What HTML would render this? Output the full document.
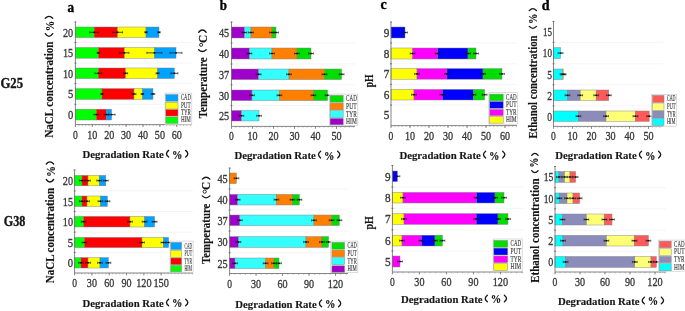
<!DOCTYPE html>
<html><head><meta charset="utf-8"><style>
html,body{margin:0;padding:0;background:#fff;width:685px;height:311px;overflow:hidden}
svg{display:block;font-family:"Liberation Serif",serif;will-change:transform}
</style></head><body>
<svg width="685" height="311" viewBox="0 0 685 311">
<line x1="75.4" y1="42.55" x2="191.8" y2="42.55" stroke="#ececec" stroke-width="0.6"/>
<line x1="75.4" y1="63.1" x2="191.8" y2="63.1" stroke="#ececec" stroke-width="0.6"/>
<line x1="75.4" y1="83.6" x2="191.8" y2="83.6" stroke="#ececec" stroke-width="0.6"/>
<line x1="75.4" y1="104.3" x2="191.8" y2="104.3" stroke="#ececec" stroke-width="0.6"/>
<rect x="75.4" y="27" width="18.8" height="10.6" fill="#00ff00" stroke="#808080" stroke-width="0.45"/>
<rect x="94.2" y="27" width="23.4" height="10.6" fill="#ff0000" stroke="#808080" stroke-width="0.45"/>
<rect x="117.6" y="27" width="28.4" height="10.6" fill="#ffff00" stroke="#808080" stroke-width="0.45"/>
<rect x="146" y="27" width="13" height="10.6" fill="#00a2ff" stroke="#808080" stroke-width="0.45"/>
<line x1="89.7" y1="32.3" x2="98.7" y2="32.3" stroke="#1a1a1a" stroke-width="0.75"/>
<line x1="89.7" y1="31.2" x2="89.7" y2="33.4" stroke="#1a1a1a" stroke-width="0.6"/>
<line x1="98.7" y1="31.2" x2="98.7" y2="33.4" stroke="#1a1a1a" stroke-width="0.6"/>
<rect x="93.4" y="31.5" width="1.6" height="1.6" fill="#111" stroke="none" stroke-width="0.6"/>
<line x1="112.6" y1="32.3" x2="122.6" y2="32.3" stroke="#1a1a1a" stroke-width="0.75"/>
<line x1="112.6" y1="31.2" x2="112.6" y2="33.4" stroke="#1a1a1a" stroke-width="0.6"/>
<line x1="122.6" y1="31.2" x2="122.6" y2="33.4" stroke="#1a1a1a" stroke-width="0.6"/>
<rect x="116.8" y="31.5" width="1.6" height="1.6" fill="#111" stroke="none" stroke-width="0.6"/>
<line x1="144.8" y1="32.3" x2="147.2" y2="32.3" stroke="#1a1a1a" stroke-width="0.75"/>
<line x1="144.8" y1="31.2" x2="144.8" y2="33.4" stroke="#1a1a1a" stroke-width="0.6"/>
<line x1="147.2" y1="31.2" x2="147.2" y2="33.4" stroke="#1a1a1a" stroke-width="0.6"/>
<rect x="145.2" y="31.5" width="1.6" height="1.6" fill="#111" stroke="none" stroke-width="0.6"/>
<line x1="157.8" y1="32.3" x2="160.2" y2="32.3" stroke="#1a1a1a" stroke-width="0.75"/>
<line x1="157.8" y1="31.2" x2="157.8" y2="33.4" stroke="#1a1a1a" stroke-width="0.6"/>
<line x1="160.2" y1="31.2" x2="160.2" y2="33.4" stroke="#1a1a1a" stroke-width="0.6"/>
<rect x="158.2" y="31.5" width="1.6" height="1.6" fill="#111" stroke="none" stroke-width="0.6"/>
<rect x="75.4" y="47.5" width="23" height="10.7" fill="#00ff00" stroke="#808080" stroke-width="0.45"/>
<rect x="98.4" y="47.5" width="26" height="10.7" fill="#ff0000" stroke="#808080" stroke-width="0.45"/>
<rect x="124.4" y="47.5" width="30" height="10.7" fill="#ffff00" stroke="#808080" stroke-width="0.45"/>
<rect x="154.4" y="47.5" width="21.6" height="10.7" fill="#00a2ff" stroke="#808080" stroke-width="0.45"/>
<line x1="97.2" y1="52.85" x2="99.6" y2="52.85" stroke="#1a1a1a" stroke-width="0.75"/>
<line x1="97.2" y1="51.75" x2="97.2" y2="53.95" stroke="#1a1a1a" stroke-width="0.6"/>
<line x1="99.6" y1="51.75" x2="99.6" y2="53.95" stroke="#1a1a1a" stroke-width="0.6"/>
<rect x="97.6" y="52.05" width="1.6" height="1.6" fill="#111" stroke="none" stroke-width="0.6"/>
<line x1="119.9" y1="52.85" x2="128.9" y2="52.85" stroke="#1a1a1a" stroke-width="0.75"/>
<line x1="119.9" y1="51.75" x2="119.9" y2="53.95" stroke="#1a1a1a" stroke-width="0.6"/>
<line x1="128.9" y1="51.75" x2="128.9" y2="53.95" stroke="#1a1a1a" stroke-width="0.6"/>
<rect x="123.6" y="52.05" width="1.6" height="1.6" fill="#111" stroke="none" stroke-width="0.6"/>
<line x1="146.9" y1="52.85" x2="161.9" y2="52.85" stroke="#1a1a1a" stroke-width="0.75"/>
<line x1="146.9" y1="51.75" x2="146.9" y2="53.95" stroke="#1a1a1a" stroke-width="0.6"/>
<line x1="161.9" y1="51.75" x2="161.9" y2="53.95" stroke="#1a1a1a" stroke-width="0.6"/>
<rect x="153.6" y="52.05" width="1.6" height="1.6" fill="#111" stroke="none" stroke-width="0.6"/>
<line x1="170" y1="52.85" x2="182" y2="52.85" stroke="#1a1a1a" stroke-width="0.75"/>
<line x1="170" y1="51.75" x2="170" y2="53.95" stroke="#1a1a1a" stroke-width="0.6"/>
<line x1="182" y1="51.75" x2="182" y2="53.95" stroke="#1a1a1a" stroke-width="0.6"/>
<rect x="175.2" y="52.05" width="1.6" height="1.6" fill="#111" stroke="none" stroke-width="0.6"/>
<rect x="75.4" y="68" width="23" height="10.6" fill="#00ff00" stroke="#808080" stroke-width="0.45"/>
<rect x="98.4" y="68" width="27.2" height="10.6" fill="#ff0000" stroke="#808080" stroke-width="0.45"/>
<rect x="125.6" y="68" width="32" height="10.6" fill="#ffff00" stroke="#808080" stroke-width="0.45"/>
<rect x="157.6" y="68" width="16.8" height="10.6" fill="#00a2ff" stroke="#808080" stroke-width="0.45"/>
<line x1="94.9" y1="73.3" x2="101.9" y2="73.3" stroke="#1a1a1a" stroke-width="0.75"/>
<line x1="94.9" y1="72.2" x2="94.9" y2="74.4" stroke="#1a1a1a" stroke-width="0.6"/>
<line x1="101.9" y1="72.2" x2="101.9" y2="74.4" stroke="#1a1a1a" stroke-width="0.6"/>
<rect x="97.6" y="72.5" width="1.6" height="1.6" fill="#111" stroke="none" stroke-width="0.6"/>
<line x1="123.6" y1="73.3" x2="127.6" y2="73.3" stroke="#1a1a1a" stroke-width="0.75"/>
<line x1="123.6" y1="72.2" x2="123.6" y2="74.4" stroke="#1a1a1a" stroke-width="0.6"/>
<line x1="127.6" y1="72.2" x2="127.6" y2="74.4" stroke="#1a1a1a" stroke-width="0.6"/>
<rect x="124.8" y="72.5" width="1.6" height="1.6" fill="#111" stroke="none" stroke-width="0.6"/>
<line x1="156.1" y1="73.3" x2="159.1" y2="73.3" stroke="#1a1a1a" stroke-width="0.75"/>
<line x1="156.1" y1="72.2" x2="156.1" y2="74.4" stroke="#1a1a1a" stroke-width="0.6"/>
<line x1="159.1" y1="72.2" x2="159.1" y2="74.4" stroke="#1a1a1a" stroke-width="0.6"/>
<rect x="156.8" y="72.5" width="1.6" height="1.6" fill="#111" stroke="none" stroke-width="0.6"/>
<line x1="170.9" y1="73.3" x2="177.9" y2="73.3" stroke="#1a1a1a" stroke-width="0.75"/>
<line x1="170.9" y1="72.2" x2="170.9" y2="74.4" stroke="#1a1a1a" stroke-width="0.6"/>
<line x1="177.9" y1="72.2" x2="177.9" y2="74.4" stroke="#1a1a1a" stroke-width="0.6"/>
<rect x="173.6" y="72.5" width="1.6" height="1.6" fill="#111" stroke="none" stroke-width="0.6"/>
<rect x="75.4" y="88.6" width="26.6" height="10.8" fill="#00ff00" stroke="#808080" stroke-width="0.45"/>
<rect x="102" y="88.6" width="32" height="10.8" fill="#ff0000" stroke="#808080" stroke-width="0.45"/>
<rect x="134" y="88.6" width="8.4" height="10.8" fill="#ffff00" stroke="#808080" stroke-width="0.45"/>
<rect x="142.4" y="88.6" width="10.6" height="10.8" fill="#00a2ff" stroke="#808080" stroke-width="0.45"/>
<line x1="100.8" y1="94" x2="103.2" y2="94" stroke="#1a1a1a" stroke-width="0.75"/>
<line x1="100.8" y1="92.9" x2="100.8" y2="95.1" stroke="#1a1a1a" stroke-width="0.6"/>
<line x1="103.2" y1="92.9" x2="103.2" y2="95.1" stroke="#1a1a1a" stroke-width="0.6"/>
<rect x="101.2" y="93.2" width="1.6" height="1.6" fill="#111" stroke="none" stroke-width="0.6"/>
<line x1="132" y1="94" x2="136" y2="94" stroke="#1a1a1a" stroke-width="0.75"/>
<line x1="132" y1="92.9" x2="132" y2="95.1" stroke="#1a1a1a" stroke-width="0.6"/>
<line x1="136" y1="92.9" x2="136" y2="95.1" stroke="#1a1a1a" stroke-width="0.6"/>
<rect x="133.2" y="93.2" width="1.6" height="1.6" fill="#111" stroke="none" stroke-width="0.6"/>
<line x1="141.2" y1="94" x2="143.6" y2="94" stroke="#1a1a1a" stroke-width="0.75"/>
<line x1="141.2" y1="92.9" x2="141.2" y2="95.1" stroke="#1a1a1a" stroke-width="0.6"/>
<line x1="143.6" y1="92.9" x2="143.6" y2="95.1" stroke="#1a1a1a" stroke-width="0.6"/>
<rect x="141.6" y="93.2" width="1.6" height="1.6" fill="#111" stroke="none" stroke-width="0.6"/>
<line x1="151.2" y1="94" x2="154.8" y2="94" stroke="#1a1a1a" stroke-width="0.75"/>
<line x1="151.2" y1="92.9" x2="151.2" y2="95.1" stroke="#1a1a1a" stroke-width="0.6"/>
<line x1="154.8" y1="92.9" x2="154.8" y2="95.1" stroke="#1a1a1a" stroke-width="0.6"/>
<rect x="152.2" y="93.2" width="1.6" height="1.6" fill="#111" stroke="none" stroke-width="0.6"/>
<rect x="75.4" y="109.2" width="21" height="10.8" fill="#00ff00" stroke="#808080" stroke-width="0.45"/>
<rect x="96.4" y="109.2" width="10" height="10.8" fill="#ff0000" stroke="#808080" stroke-width="0.45"/>
<rect x="106.4" y="109.2" width="5.2" height="10.8" fill="#00a2ff" stroke="#808080" stroke-width="0.45"/>
<line x1="93.9" y1="114.6" x2="98.9" y2="114.6" stroke="#1a1a1a" stroke-width="0.75"/>
<line x1="93.9" y1="113.5" x2="93.9" y2="115.7" stroke="#1a1a1a" stroke-width="0.6"/>
<line x1="98.9" y1="113.5" x2="98.9" y2="115.7" stroke="#1a1a1a" stroke-width="0.6"/>
<rect x="95.6" y="113.8" width="1.6" height="1.6" fill="#111" stroke="none" stroke-width="0.6"/>
<line x1="103.9" y1="114.6" x2="108.9" y2="114.6" stroke="#1a1a1a" stroke-width="0.75"/>
<line x1="103.9" y1="113.5" x2="103.9" y2="115.7" stroke="#1a1a1a" stroke-width="0.6"/>
<line x1="108.9" y1="113.5" x2="108.9" y2="115.7" stroke="#1a1a1a" stroke-width="0.6"/>
<rect x="105.6" y="113.8" width="1.6" height="1.6" fill="#111" stroke="none" stroke-width="0.6"/>
<line x1="108.1" y1="114.6" x2="115.1" y2="114.6" stroke="#1a1a1a" stroke-width="0.75"/>
<line x1="108.1" y1="113.5" x2="108.1" y2="115.7" stroke="#1a1a1a" stroke-width="0.6"/>
<line x1="115.1" y1="113.5" x2="115.1" y2="115.7" stroke="#1a1a1a" stroke-width="0.6"/>
<rect x="110.8" y="113.8" width="1.6" height="1.6" fill="#111" stroke="none" stroke-width="0.6"/>
<line x1="75.4" y1="21.5" x2="75.4" y2="124.6" stroke="#666" stroke-width="0.8"/>
<line x1="75.4" y1="124.6" x2="191.8" y2="124.6" stroke="#666" stroke-width="0.8"/>
<line x1="74.4" y1="42.55" x2="76.4" y2="42.55" stroke="#555" stroke-width="0.7"/>
<line x1="74.4" y1="63.1" x2="76.4" y2="63.1" stroke="#555" stroke-width="0.7"/>
<line x1="74.4" y1="83.6" x2="76.4" y2="83.6" stroke="#555" stroke-width="0.7"/>
<line x1="74.4" y1="104.3" x2="76.4" y2="104.3" stroke="#555" stroke-width="0.7"/>
<line x1="74.4" y1="22" x2="76.4" y2="22" stroke="#555" stroke-width="0.7"/>
<text x="73.2" y="36.6" font-size="12.6" text-anchor="end" textLength="10.2" lengthAdjust="spacingAndGlyphs" fill="#3a3a3a" stroke="#3a3a3a" stroke-width="0.35">20</text>
<text x="73.2" y="57.15" font-size="12.6" text-anchor="end" textLength="10.2" lengthAdjust="spacingAndGlyphs" fill="#3a3a3a" stroke="#3a3a3a" stroke-width="0.35">15</text>
<text x="73.2" y="77.6" font-size="12.6" text-anchor="end" textLength="10.2" lengthAdjust="spacingAndGlyphs" fill="#3a3a3a" stroke="#3a3a3a" stroke-width="0.35">10</text>
<text x="73.2" y="98.3" font-size="12.6" text-anchor="end" textLength="5.3" lengthAdjust="spacingAndGlyphs" fill="#3a3a3a" stroke="#3a3a3a" stroke-width="0.35">5</text>
<text x="73.2" y="118.9" font-size="12.6" text-anchor="end" textLength="5.3" lengthAdjust="spacingAndGlyphs" fill="#3a3a3a" stroke="#3a3a3a" stroke-width="0.35">0</text>
<text x="75.4" y="138.9" font-size="12.4" text-anchor="middle" textLength="4.8" lengthAdjust="spacingAndGlyphs" fill="#3a3a3a" stroke="#3a3a3a" stroke-width="0.35">0</text>
<line x1="75.4" y1="124.6" x2="75.4" y2="127" stroke="#555" stroke-width="0.7"/>
<text x="92.3" y="138.9" font-size="12.4" text-anchor="middle" textLength="10.1" lengthAdjust="spacingAndGlyphs" fill="#3a3a3a" stroke="#3a3a3a" stroke-width="0.35">10</text>
<line x1="92.3" y1="124.6" x2="92.3" y2="127" stroke="#555" stroke-width="0.7"/>
<text x="109.2" y="138.9" font-size="12.4" text-anchor="middle" textLength="10.1" lengthAdjust="spacingAndGlyphs" fill="#3a3a3a" stroke="#3a3a3a" stroke-width="0.35">20</text>
<line x1="109.2" y1="124.6" x2="109.2" y2="127" stroke="#555" stroke-width="0.7"/>
<text x="126.1" y="138.9" font-size="12.4" text-anchor="middle" textLength="10.1" lengthAdjust="spacingAndGlyphs" fill="#3a3a3a" stroke="#3a3a3a" stroke-width="0.35">30</text>
<line x1="126.1" y1="124.6" x2="126.1" y2="127" stroke="#555" stroke-width="0.7"/>
<text x="143" y="138.9" font-size="12.4" text-anchor="middle" textLength="10.1" lengthAdjust="spacingAndGlyphs" fill="#3a3a3a" stroke="#3a3a3a" stroke-width="0.35">40</text>
<line x1="143" y1="124.6" x2="143" y2="127" stroke="#555" stroke-width="0.7"/>
<text x="159.9" y="138.9" font-size="12.4" text-anchor="middle" textLength="10.1" lengthAdjust="spacingAndGlyphs" fill="#3a3a3a" stroke="#3a3a3a" stroke-width="0.35">50</text>
<line x1="159.9" y1="124.6" x2="159.9" y2="127" stroke="#555" stroke-width="0.7"/>
<text x="176.8" y="138.9" font-size="12.4" text-anchor="middle" textLength="10.1" lengthAdjust="spacingAndGlyphs" fill="#3a3a3a" stroke="#3a3a3a" stroke-width="0.35">60</text>
<line x1="176.8" y1="124.6" x2="176.8" y2="127" stroke="#555" stroke-width="0.7"/>
<line x1="75.4" y1="124.6" x2="75.4" y2="126" stroke="#888" stroke-width="0.5"/>
<line x1="78.78" y1="124.6" x2="78.78" y2="126" stroke="#888" stroke-width="0.5"/>
<line x1="82.16" y1="124.6" x2="82.16" y2="126" stroke="#888" stroke-width="0.5"/>
<line x1="85.54" y1="124.6" x2="85.54" y2="126" stroke="#888" stroke-width="0.5"/>
<line x1="88.92" y1="124.6" x2="88.92" y2="126" stroke="#888" stroke-width="0.5"/>
<line x1="92.3" y1="124.6" x2="92.3" y2="126" stroke="#888" stroke-width="0.5"/>
<line x1="95.68" y1="124.6" x2="95.68" y2="126" stroke="#888" stroke-width="0.5"/>
<line x1="99.06" y1="124.6" x2="99.06" y2="126" stroke="#888" stroke-width="0.5"/>
<line x1="102.44" y1="124.6" x2="102.44" y2="126" stroke="#888" stroke-width="0.5"/>
<line x1="105.82" y1="124.6" x2="105.82" y2="126" stroke="#888" stroke-width="0.5"/>
<line x1="109.2" y1="124.6" x2="109.2" y2="126" stroke="#888" stroke-width="0.5"/>
<line x1="112.58" y1="124.6" x2="112.58" y2="126" stroke="#888" stroke-width="0.5"/>
<line x1="115.96" y1="124.6" x2="115.96" y2="126" stroke="#888" stroke-width="0.5"/>
<line x1="119.34" y1="124.6" x2="119.34" y2="126" stroke="#888" stroke-width="0.5"/>
<line x1="122.72" y1="124.6" x2="122.72" y2="126" stroke="#888" stroke-width="0.5"/>
<line x1="126.1" y1="124.6" x2="126.1" y2="126" stroke="#888" stroke-width="0.5"/>
<line x1="129.48" y1="124.6" x2="129.48" y2="126" stroke="#888" stroke-width="0.5"/>
<line x1="132.86" y1="124.6" x2="132.86" y2="126" stroke="#888" stroke-width="0.5"/>
<line x1="136.24" y1="124.6" x2="136.24" y2="126" stroke="#888" stroke-width="0.5"/>
<line x1="139.62" y1="124.6" x2="139.62" y2="126" stroke="#888" stroke-width="0.5"/>
<line x1="143" y1="124.6" x2="143" y2="126" stroke="#888" stroke-width="0.5"/>
<line x1="146.38" y1="124.6" x2="146.38" y2="126" stroke="#888" stroke-width="0.5"/>
<line x1="149.76" y1="124.6" x2="149.76" y2="126" stroke="#888" stroke-width="0.5"/>
<line x1="153.14" y1="124.6" x2="153.14" y2="126" stroke="#888" stroke-width="0.5"/>
<line x1="156.52" y1="124.6" x2="156.52" y2="126" stroke="#888" stroke-width="0.5"/>
<line x1="159.9" y1="124.6" x2="159.9" y2="126" stroke="#888" stroke-width="0.5"/>
<line x1="163.28" y1="124.6" x2="163.28" y2="126" stroke="#888" stroke-width="0.5"/>
<line x1="166.66" y1="124.6" x2="166.66" y2="126" stroke="#888" stroke-width="0.5"/>
<line x1="170.04" y1="124.6" x2="170.04" y2="126" stroke="#888" stroke-width="0.5"/>
<line x1="173.42" y1="124.6" x2="173.42" y2="126" stroke="#888" stroke-width="0.5"/>
<line x1="176.8" y1="124.6" x2="176.8" y2="126" stroke="#888" stroke-width="0.5"/>
<line x1="180.18" y1="124.6" x2="180.18" y2="126" stroke="#888" stroke-width="0.5"/>
<line x1="183.56" y1="124.6" x2="183.56" y2="126" stroke="#888" stroke-width="0.5"/>
<line x1="186.94" y1="124.6" x2="186.94" y2="126" stroke="#888" stroke-width="0.5"/>
<line x1="190.32" y1="124.6" x2="190.32" y2="126" stroke="#888" stroke-width="0.5"/>
<rect x="165.1" y="93.1" width="26.7" height="31.4" fill="#fff" stroke="#c4c4c4" stroke-width="0.6"/>
<rect x="165.8" y="94.5" width="12.2" height="6.7" fill="#00a2ff" stroke="#8a8a8a" stroke-width="0.5"/>
<text x="180.9" y="100.1" font-size="7.5" text-anchor="start" textLength="9.9" lengthAdjust="spacingAndGlyphs" fill="#3c3c3c" stroke="#3c3c3c" stroke-width="0.15">CAD</text>
<rect x="165.8" y="102.2" width="12.2" height="6.8" fill="#ffff00" stroke="#8a8a8a" stroke-width="0.5"/>
<text x="180.9" y="107.9" font-size="7.5" text-anchor="start" textLength="9.9" lengthAdjust="spacingAndGlyphs" fill="#3c3c3c" stroke="#3c3c3c" stroke-width="0.15">PUT</text>
<rect x="165.8" y="109.6" width="12.2" height="6.5" fill="#ff0000" stroke="#8a8a8a" stroke-width="0.5"/>
<text x="180.9" y="115" font-size="7.5" text-anchor="start" textLength="9.9" lengthAdjust="spacingAndGlyphs" fill="#3c3c3c" stroke="#3c3c3c" stroke-width="0.15">TYR</text>
<rect x="165.8" y="117" width="12.2" height="6.4" fill="#00ff00" stroke="#8a8a8a" stroke-width="0.5"/>
<text x="180.9" y="122.3" font-size="7.5" text-anchor="start" textLength="9.9" lengthAdjust="spacingAndGlyphs" fill="#3c3c3c" stroke="#3c3c3c" stroke-width="0.15">HIM</text>
<text transform="translate(53.2,137.7) rotate(-90)" font-size="12" font-weight="bold" textLength="96.2" lengthAdjust="spacingAndGlyphs" fill="#161616" stroke="#161616" stroke-width="0.15">NaCL concentration</text>
<path d="M45.27,33.67 Q49,38.98 52.73,33.67" fill="none" stroke="#161616" stroke-width="1.35" stroke-linecap="round"/>
<path d="M45.27,18.32 Q49,14.43 52.73,18.32" fill="none" stroke="#161616" stroke-width="1.35" stroke-linecap="round"/>
<text transform="translate(53.6,31.2) rotate(-90)" font-size="12.5" font-weight="bold" textLength="10.4" lengthAdjust="spacingAndGlyphs" fill="#161616" stroke="#161616" stroke-width="0.15">%</text>
<text x="82.4" y="158.1" font-size="11" text-anchor="start" font-weight="bold" textLength="81.4" lengthAdjust="spacingAndGlyphs" fill="#161616" stroke="#161616" stroke-width="0.15">Degradation Rate</text>
<path d="M168.62,150.38 Q164.33,153.7 168.62,157.02" fill="none" stroke="#161616" stroke-width="1.35" stroke-linecap="round"/>
<text x="172" y="158.6" font-size="13.5" text-anchor="start" font-weight="bold" textLength="10.4" lengthAdjust="spacingAndGlyphs" fill="#161616" stroke="#161616" stroke-width="0.2">%</text>
<path d="M185.68,150.38 Q189.97,153.7 185.68,157.02" fill="none" stroke="#161616" stroke-width="1.35" stroke-linecap="round"/>
<text x="67.6" y="12" font-size="15.2" text-anchor="start" font-weight="bold" textLength="6.6" lengthAdjust="spacingAndGlyphs" fill="#000" stroke="#000" stroke-width="0.4">a</text>
<line x1="231.5" y1="43" x2="355" y2="43" stroke="#ececec" stroke-width="0.6"/>
<line x1="231.5" y1="64" x2="355" y2="64" stroke="#ececec" stroke-width="0.6"/>
<line x1="231.5" y1="84.8" x2="355" y2="84.8" stroke="#ececec" stroke-width="0.6"/>
<line x1="231.5" y1="105.55" x2="355" y2="105.55" stroke="#ececec" stroke-width="0.6"/>
<rect x="231.5" y="27" width="12.9" height="11" fill="#a000cc" stroke="#808080" stroke-width="0.45"/>
<rect x="244.4" y="27" width="6.6" height="11" fill="#33ffff" stroke="#808080" stroke-width="0.45"/>
<rect x="251" y="27" width="21" height="11" fill="#ff8000" stroke="#808080" stroke-width="0.45"/>
<rect x="272" y="27" width="4" height="11" fill="#00dd00" stroke="#808080" stroke-width="0.45"/>
<line x1="242" y1="32.5" x2="246.8" y2="32.5" stroke="#1a1a1a" stroke-width="0.75"/>
<line x1="242" y1="31.4" x2="242" y2="33.6" stroke="#1a1a1a" stroke-width="0.6"/>
<line x1="246.8" y1="31.4" x2="246.8" y2="33.6" stroke="#1a1a1a" stroke-width="0.6"/>
<rect x="243.6" y="31.7" width="1.6" height="1.6" fill="#111" stroke="none" stroke-width="0.6"/>
<line x1="248.6" y1="32.5" x2="253.4" y2="32.5" stroke="#1a1a1a" stroke-width="0.75"/>
<line x1="248.6" y1="31.4" x2="248.6" y2="33.6" stroke="#1a1a1a" stroke-width="0.6"/>
<line x1="253.4" y1="31.4" x2="253.4" y2="33.6" stroke="#1a1a1a" stroke-width="0.6"/>
<rect x="250.2" y="31.7" width="1.6" height="1.6" fill="#111" stroke="none" stroke-width="0.6"/>
<line x1="269.6" y1="32.5" x2="274.4" y2="32.5" stroke="#1a1a1a" stroke-width="0.75"/>
<line x1="269.6" y1="31.4" x2="269.6" y2="33.6" stroke="#1a1a1a" stroke-width="0.6"/>
<line x1="274.4" y1="31.4" x2="274.4" y2="33.6" stroke="#1a1a1a" stroke-width="0.6"/>
<rect x="271.2" y="31.7" width="1.6" height="1.6" fill="#111" stroke="none" stroke-width="0.6"/>
<line x1="273.6" y1="32.5" x2="278.4" y2="32.5" stroke="#1a1a1a" stroke-width="0.75"/>
<line x1="273.6" y1="31.4" x2="273.6" y2="33.6" stroke="#1a1a1a" stroke-width="0.6"/>
<line x1="278.4" y1="31.4" x2="278.4" y2="33.6" stroke="#1a1a1a" stroke-width="0.6"/>
<rect x="275.2" y="31.7" width="1.6" height="1.6" fill="#111" stroke="none" stroke-width="0.6"/>
<rect x="231.5" y="48" width="17.9" height="11" fill="#a000cc" stroke="#808080" stroke-width="0.45"/>
<rect x="249.4" y="48" width="22.6" height="11" fill="#33ffff" stroke="#808080" stroke-width="0.45"/>
<rect x="272" y="48" width="25" height="11" fill="#ff8000" stroke="#808080" stroke-width="0.45"/>
<rect x="297" y="48" width="14" height="11" fill="#00dd00" stroke="#808080" stroke-width="0.45"/>
<line x1="247" y1="53.5" x2="251.8" y2="53.5" stroke="#1a1a1a" stroke-width="0.75"/>
<line x1="247" y1="52.4" x2="247" y2="54.6" stroke="#1a1a1a" stroke-width="0.6"/>
<line x1="251.8" y1="52.4" x2="251.8" y2="54.6" stroke="#1a1a1a" stroke-width="0.6"/>
<rect x="248.6" y="52.7" width="1.6" height="1.6" fill="#111" stroke="none" stroke-width="0.6"/>
<line x1="269.6" y1="53.5" x2="274.4" y2="53.5" stroke="#1a1a1a" stroke-width="0.75"/>
<line x1="269.6" y1="52.4" x2="269.6" y2="54.6" stroke="#1a1a1a" stroke-width="0.6"/>
<line x1="274.4" y1="52.4" x2="274.4" y2="54.6" stroke="#1a1a1a" stroke-width="0.6"/>
<rect x="271.2" y="52.7" width="1.6" height="1.6" fill="#111" stroke="none" stroke-width="0.6"/>
<line x1="294.6" y1="53.5" x2="299.4" y2="53.5" stroke="#1a1a1a" stroke-width="0.75"/>
<line x1="294.6" y1="52.4" x2="294.6" y2="54.6" stroke="#1a1a1a" stroke-width="0.6"/>
<line x1="299.4" y1="52.4" x2="299.4" y2="54.6" stroke="#1a1a1a" stroke-width="0.6"/>
<rect x="296.2" y="52.7" width="1.6" height="1.6" fill="#111" stroke="none" stroke-width="0.6"/>
<line x1="308.6" y1="53.5" x2="313.4" y2="53.5" stroke="#1a1a1a" stroke-width="0.75"/>
<line x1="308.6" y1="52.4" x2="308.6" y2="54.6" stroke="#1a1a1a" stroke-width="0.6"/>
<line x1="313.4" y1="52.4" x2="313.4" y2="54.6" stroke="#1a1a1a" stroke-width="0.6"/>
<rect x="310.2" y="52.7" width="1.6" height="1.6" fill="#111" stroke="none" stroke-width="0.6"/>
<rect x="231.5" y="69" width="27.1" height="10.6" fill="#a000cc" stroke="#808080" stroke-width="0.45"/>
<rect x="258.6" y="69" width="30.4" height="10.6" fill="#33ffff" stroke="#808080" stroke-width="0.45"/>
<rect x="289" y="69" width="35.4" height="10.6" fill="#ff8000" stroke="#808080" stroke-width="0.45"/>
<rect x="324.4" y="69" width="17.2" height="10.6" fill="#00dd00" stroke="#808080" stroke-width="0.45"/>
<line x1="256.2" y1="74.3" x2="261" y2="74.3" stroke="#1a1a1a" stroke-width="0.75"/>
<line x1="256.2" y1="73.2" x2="256.2" y2="75.4" stroke="#1a1a1a" stroke-width="0.6"/>
<line x1="261" y1="73.2" x2="261" y2="75.4" stroke="#1a1a1a" stroke-width="0.6"/>
<rect x="257.8" y="73.5" width="1.6" height="1.6" fill="#111" stroke="none" stroke-width="0.6"/>
<line x1="286.6" y1="74.3" x2="291.4" y2="74.3" stroke="#1a1a1a" stroke-width="0.75"/>
<line x1="286.6" y1="73.2" x2="286.6" y2="75.4" stroke="#1a1a1a" stroke-width="0.6"/>
<line x1="291.4" y1="73.2" x2="291.4" y2="75.4" stroke="#1a1a1a" stroke-width="0.6"/>
<rect x="288.2" y="73.5" width="1.6" height="1.6" fill="#111" stroke="none" stroke-width="0.6"/>
<line x1="322" y1="74.3" x2="326.8" y2="74.3" stroke="#1a1a1a" stroke-width="0.75"/>
<line x1="322" y1="73.2" x2="322" y2="75.4" stroke="#1a1a1a" stroke-width="0.6"/>
<line x1="326.8" y1="73.2" x2="326.8" y2="75.4" stroke="#1a1a1a" stroke-width="0.6"/>
<rect x="323.6" y="73.5" width="1.6" height="1.6" fill="#111" stroke="none" stroke-width="0.6"/>
<line x1="339.2" y1="74.3" x2="344" y2="74.3" stroke="#1a1a1a" stroke-width="0.75"/>
<line x1="339.2" y1="73.2" x2="339.2" y2="75.4" stroke="#1a1a1a" stroke-width="0.6"/>
<line x1="344" y1="73.2" x2="344" y2="75.4" stroke="#1a1a1a" stroke-width="0.6"/>
<rect x="340.8" y="73.5" width="1.6" height="1.6" fill="#111" stroke="none" stroke-width="0.6"/>
<rect x="231.5" y="90" width="20.5" height="10.6" fill="#a000cc" stroke="#808080" stroke-width="0.45"/>
<rect x="252" y="90" width="27.4" height="10.6" fill="#33ffff" stroke="#808080" stroke-width="0.45"/>
<rect x="279.4" y="90" width="34" height="10.6" fill="#ff8000" stroke="#808080" stroke-width="0.45"/>
<rect x="313.4" y="90" width="14.2" height="10.6" fill="#00dd00" stroke="#808080" stroke-width="0.45"/>
<line x1="249.6" y1="95.3" x2="254.4" y2="95.3" stroke="#1a1a1a" stroke-width="0.75"/>
<line x1="249.6" y1="94.2" x2="249.6" y2="96.4" stroke="#1a1a1a" stroke-width="0.6"/>
<line x1="254.4" y1="94.2" x2="254.4" y2="96.4" stroke="#1a1a1a" stroke-width="0.6"/>
<rect x="251.2" y="94.5" width="1.6" height="1.6" fill="#111" stroke="none" stroke-width="0.6"/>
<line x1="277" y1="95.3" x2="281.8" y2="95.3" stroke="#1a1a1a" stroke-width="0.75"/>
<line x1="277" y1="94.2" x2="277" y2="96.4" stroke="#1a1a1a" stroke-width="0.6"/>
<line x1="281.8" y1="94.2" x2="281.8" y2="96.4" stroke="#1a1a1a" stroke-width="0.6"/>
<rect x="278.6" y="94.5" width="1.6" height="1.6" fill="#111" stroke="none" stroke-width="0.6"/>
<line x1="311" y1="95.3" x2="315.8" y2="95.3" stroke="#1a1a1a" stroke-width="0.75"/>
<line x1="311" y1="94.2" x2="311" y2="96.4" stroke="#1a1a1a" stroke-width="0.6"/>
<line x1="315.8" y1="94.2" x2="315.8" y2="96.4" stroke="#1a1a1a" stroke-width="0.6"/>
<rect x="312.6" y="94.5" width="1.6" height="1.6" fill="#111" stroke="none" stroke-width="0.6"/>
<line x1="325.2" y1="95.3" x2="330" y2="95.3" stroke="#1a1a1a" stroke-width="0.75"/>
<line x1="325.2" y1="94.2" x2="325.2" y2="96.4" stroke="#1a1a1a" stroke-width="0.6"/>
<line x1="330" y1="94.2" x2="330" y2="96.4" stroke="#1a1a1a" stroke-width="0.6"/>
<rect x="326.8" y="94.5" width="1.6" height="1.6" fill="#111" stroke="none" stroke-width="0.6"/>
<rect x="231.5" y="110.5" width="9.9" height="10.5" fill="#a000cc" stroke="#808080" stroke-width="0.45"/>
<rect x="241.4" y="110.5" width="17.6" height="10.5" fill="#33ffff" stroke="#808080" stroke-width="0.45"/>
<line x1="239" y1="115.75" x2="243.8" y2="115.75" stroke="#1a1a1a" stroke-width="0.75"/>
<line x1="239" y1="114.65" x2="239" y2="116.85" stroke="#1a1a1a" stroke-width="0.6"/>
<line x1="243.8" y1="114.65" x2="243.8" y2="116.85" stroke="#1a1a1a" stroke-width="0.6"/>
<rect x="240.6" y="114.95" width="1.6" height="1.6" fill="#111" stroke="none" stroke-width="0.6"/>
<line x1="256.6" y1="115.75" x2="261.4" y2="115.75" stroke="#1a1a1a" stroke-width="0.75"/>
<line x1="256.6" y1="114.65" x2="256.6" y2="116.85" stroke="#1a1a1a" stroke-width="0.6"/>
<line x1="261.4" y1="114.65" x2="261.4" y2="116.85" stroke="#1a1a1a" stroke-width="0.6"/>
<rect x="258.2" y="114.95" width="1.6" height="1.6" fill="#111" stroke="none" stroke-width="0.6"/>
<line x1="231.5" y1="21.6" x2="231.5" y2="126.4" stroke="#666" stroke-width="0.8"/>
<line x1="231.5" y1="126.4" x2="355" y2="126.4" stroke="#666" stroke-width="0.8"/>
<line x1="230.5" y1="43" x2="232.5" y2="43" stroke="#555" stroke-width="0.7"/>
<line x1="230.5" y1="64" x2="232.5" y2="64" stroke="#555" stroke-width="0.7"/>
<line x1="230.5" y1="84.8" x2="232.5" y2="84.8" stroke="#555" stroke-width="0.7"/>
<line x1="230.5" y1="105.55" x2="232.5" y2="105.55" stroke="#555" stroke-width="0.7"/>
<line x1="230.5" y1="22.1" x2="232.5" y2="22.1" stroke="#555" stroke-width="0.7"/>
<text x="229.2" y="36.8" font-size="12.6" text-anchor="end" textLength="10.2" lengthAdjust="spacingAndGlyphs" fill="#3a3a3a" stroke="#3a3a3a" stroke-width="0.35">45</text>
<text x="229.2" y="57.8" font-size="12.6" text-anchor="end" textLength="10.2" lengthAdjust="spacingAndGlyphs" fill="#3a3a3a" stroke="#3a3a3a" stroke-width="0.35">40</text>
<text x="229.2" y="78.6" font-size="12.6" text-anchor="end" textLength="10.2" lengthAdjust="spacingAndGlyphs" fill="#3a3a3a" stroke="#3a3a3a" stroke-width="0.35">37</text>
<text x="229.2" y="99.6" font-size="12.6" text-anchor="end" textLength="10.2" lengthAdjust="spacingAndGlyphs" fill="#3a3a3a" stroke="#3a3a3a" stroke-width="0.35">30</text>
<text x="229.2" y="120.05" font-size="12.6" text-anchor="end" textLength="10.2" lengthAdjust="spacingAndGlyphs" fill="#3a3a3a" stroke="#3a3a3a" stroke-width="0.35">25</text>
<text x="231.5" y="139.9" font-size="12.4" text-anchor="middle" textLength="4.8" lengthAdjust="spacingAndGlyphs" fill="#3a3a3a" stroke="#3a3a3a" stroke-width="0.35">0</text>
<line x1="231.5" y1="126.4" x2="231.5" y2="128.8" stroke="#555" stroke-width="0.7"/>
<text x="252.5" y="139.9" font-size="12.4" text-anchor="middle" textLength="10.1" lengthAdjust="spacingAndGlyphs" fill="#3a3a3a" stroke="#3a3a3a" stroke-width="0.35">10</text>
<line x1="252.5" y1="126.4" x2="252.5" y2="128.8" stroke="#555" stroke-width="0.7"/>
<text x="273.5" y="139.9" font-size="12.4" text-anchor="middle" textLength="10.1" lengthAdjust="spacingAndGlyphs" fill="#3a3a3a" stroke="#3a3a3a" stroke-width="0.35">20</text>
<line x1="273.5" y1="126.4" x2="273.5" y2="128.8" stroke="#555" stroke-width="0.7"/>
<text x="294.5" y="139.9" font-size="12.4" text-anchor="middle" textLength="10.1" lengthAdjust="spacingAndGlyphs" fill="#3a3a3a" stroke="#3a3a3a" stroke-width="0.35">30</text>
<line x1="294.5" y1="126.4" x2="294.5" y2="128.8" stroke="#555" stroke-width="0.7"/>
<text x="315.5" y="139.9" font-size="12.4" text-anchor="middle" textLength="10.1" lengthAdjust="spacingAndGlyphs" fill="#3a3a3a" stroke="#3a3a3a" stroke-width="0.35">40</text>
<line x1="315.5" y1="126.4" x2="315.5" y2="128.8" stroke="#555" stroke-width="0.7"/>
<text x="336.5" y="139.9" font-size="12.4" text-anchor="middle" textLength="10.1" lengthAdjust="spacingAndGlyphs" fill="#3a3a3a" stroke="#3a3a3a" stroke-width="0.35">50</text>
<line x1="336.5" y1="126.4" x2="336.5" y2="128.8" stroke="#555" stroke-width="0.7"/>
<line x1="231.5" y1="126.4" x2="231.5" y2="127.8" stroke="#888" stroke-width="0.5"/>
<line x1="235.7" y1="126.4" x2="235.7" y2="127.8" stroke="#888" stroke-width="0.5"/>
<line x1="239.9" y1="126.4" x2="239.9" y2="127.8" stroke="#888" stroke-width="0.5"/>
<line x1="244.1" y1="126.4" x2="244.1" y2="127.8" stroke="#888" stroke-width="0.5"/>
<line x1="248.3" y1="126.4" x2="248.3" y2="127.8" stroke="#888" stroke-width="0.5"/>
<line x1="252.5" y1="126.4" x2="252.5" y2="127.8" stroke="#888" stroke-width="0.5"/>
<line x1="256.7" y1="126.4" x2="256.7" y2="127.8" stroke="#888" stroke-width="0.5"/>
<line x1="260.9" y1="126.4" x2="260.9" y2="127.8" stroke="#888" stroke-width="0.5"/>
<line x1="265.1" y1="126.4" x2="265.1" y2="127.8" stroke="#888" stroke-width="0.5"/>
<line x1="269.3" y1="126.4" x2="269.3" y2="127.8" stroke="#888" stroke-width="0.5"/>
<line x1="273.5" y1="126.4" x2="273.5" y2="127.8" stroke="#888" stroke-width="0.5"/>
<line x1="277.7" y1="126.4" x2="277.7" y2="127.8" stroke="#888" stroke-width="0.5"/>
<line x1="281.9" y1="126.4" x2="281.9" y2="127.8" stroke="#888" stroke-width="0.5"/>
<line x1="286.1" y1="126.4" x2="286.1" y2="127.8" stroke="#888" stroke-width="0.5"/>
<line x1="290.3" y1="126.4" x2="290.3" y2="127.8" stroke="#888" stroke-width="0.5"/>
<line x1="294.5" y1="126.4" x2="294.5" y2="127.8" stroke="#888" stroke-width="0.5"/>
<line x1="298.7" y1="126.4" x2="298.7" y2="127.8" stroke="#888" stroke-width="0.5"/>
<line x1="302.9" y1="126.4" x2="302.9" y2="127.8" stroke="#888" stroke-width="0.5"/>
<line x1="307.1" y1="126.4" x2="307.1" y2="127.8" stroke="#888" stroke-width="0.5"/>
<line x1="311.3" y1="126.4" x2="311.3" y2="127.8" stroke="#888" stroke-width="0.5"/>
<line x1="315.5" y1="126.4" x2="315.5" y2="127.8" stroke="#888" stroke-width="0.5"/>
<line x1="319.7" y1="126.4" x2="319.7" y2="127.8" stroke="#888" stroke-width="0.5"/>
<line x1="323.9" y1="126.4" x2="323.9" y2="127.8" stroke="#888" stroke-width="0.5"/>
<line x1="328.1" y1="126.4" x2="328.1" y2="127.8" stroke="#888" stroke-width="0.5"/>
<line x1="332.3" y1="126.4" x2="332.3" y2="127.8" stroke="#888" stroke-width="0.5"/>
<line x1="336.5" y1="126.4" x2="336.5" y2="127.8" stroke="#888" stroke-width="0.5"/>
<line x1="340.7" y1="126.4" x2="340.7" y2="127.8" stroke="#888" stroke-width="0.5"/>
<line x1="344.9" y1="126.4" x2="344.9" y2="127.8" stroke="#888" stroke-width="0.5"/>
<line x1="349.1" y1="126.4" x2="349.1" y2="127.8" stroke="#888" stroke-width="0.5"/>
<line x1="353.3" y1="126.4" x2="353.3" y2="127.8" stroke="#888" stroke-width="0.5"/>
<rect x="329.5" y="94.1" width="28.3" height="31.5" fill="#fff" stroke="#c4c4c4" stroke-width="0.6"/>
<rect x="330.1" y="95.4" width="13.1" height="6.8" fill="#00dd00" stroke="#8a8a8a" stroke-width="0.5"/>
<text x="346.1" y="101.1" font-size="7.5" text-anchor="start" textLength="10.7" lengthAdjust="spacingAndGlyphs" fill="#3c3c3c" stroke="#3c3c3c" stroke-width="0.15">CAD</text>
<rect x="330.1" y="103.1" width="13.1" height="6.8" fill="#ff8000" stroke="#8a8a8a" stroke-width="0.5"/>
<text x="346.1" y="108.8" font-size="7.5" text-anchor="start" textLength="10.7" lengthAdjust="spacingAndGlyphs" fill="#3c3c3c" stroke="#3c3c3c" stroke-width="0.15">PUT</text>
<rect x="330.1" y="110.7" width="13.1" height="7" fill="#33ffff" stroke="#8a8a8a" stroke-width="0.5"/>
<text x="346.1" y="116.6" font-size="7.5" text-anchor="start" textLength="10.7" lengthAdjust="spacingAndGlyphs" fill="#3c3c3c" stroke="#3c3c3c" stroke-width="0.15">TYR</text>
<rect x="330.1" y="118.4" width="13.1" height="6.4" fill="#a000cc" stroke="#8a8a8a" stroke-width="0.5"/>
<text x="346.1" y="123.7" font-size="7.5" text-anchor="start" textLength="10.7" lengthAdjust="spacingAndGlyphs" fill="#3c3c3c" stroke="#3c3c3c" stroke-width="0.15">HIM</text>
<text transform="translate(206.6,118.3) rotate(-90)" font-size="12" font-weight="bold" textLength="61" lengthAdjust="spacingAndGlyphs" fill="#161616" stroke="#161616" stroke-width="0.15">Temperature</text>
<path d="M198.68,49.67 Q202.4,53.38 206.12,49.67" fill="none" stroke="#161616" stroke-width="1.35" stroke-linecap="round"/>
<path d="M198.68,32.23 Q202.4,27.73 206.12,32.23" fill="none" stroke="#161616" stroke-width="1.35" stroke-linecap="round"/>
<circle cx="201.1" cy="44.8" r="1.55" fill="none" stroke="#161616" stroke-width="0.9"/>
<text transform="translate(206.8,43) rotate(-90)" font-size="13" font-weight="bold" textLength="8.2" lengthAdjust="spacingAndGlyphs" fill="#161616" stroke="#161616" stroke-width="0.15">C</text>
<text x="234.4" y="159" font-size="11" text-anchor="start" font-weight="bold" textLength="81.4" lengthAdjust="spacingAndGlyphs" fill="#161616" stroke="#161616" stroke-width="0.15">Degradation Rate</text>
<path d="M320.62,151.28 Q316.33,154.6 320.62,157.92" fill="none" stroke="#161616" stroke-width="1.35" stroke-linecap="round"/>
<text x="324" y="159.5" font-size="13.5" text-anchor="start" font-weight="bold" textLength="10.4" lengthAdjust="spacingAndGlyphs" fill="#161616" stroke="#161616" stroke-width="0.2">%</text>
<path d="M337.68,151.28 Q341.97,154.6 337.68,157.92" fill="none" stroke="#161616" stroke-width="1.35" stroke-linecap="round"/>
<text x="219.8" y="10" font-size="15.6" text-anchor="start" font-weight="bold" textLength="7.2" lengthAdjust="spacingAndGlyphs" fill="#000" stroke="#000" stroke-width="0.4">b</text>
<line x1="391" y1="43" x2="517" y2="43" stroke="#ececec" stroke-width="0.6"/>
<line x1="391" y1="63.8" x2="517" y2="63.8" stroke="#ececec" stroke-width="0.6"/>
<line x1="391" y1="84.3" x2="517" y2="84.3" stroke="#ececec" stroke-width="0.6"/>
<line x1="391" y1="105" x2="517" y2="105" stroke="#ececec" stroke-width="0.6"/>
<rect x="391" y="27" width="14" height="11" fill="#0000ff" stroke="#808080" stroke-width="0.45"/>
<line x1="402.6" y1="32.5" x2="407.4" y2="32.5" stroke="#1a1a1a" stroke-width="0.75"/>
<line x1="402.6" y1="31.4" x2="402.6" y2="33.6" stroke="#1a1a1a" stroke-width="0.6"/>
<line x1="407.4" y1="31.4" x2="407.4" y2="33.6" stroke="#1a1a1a" stroke-width="0.6"/>
<rect x="404.2" y="31.7" width="1.6" height="1.6" fill="#111" stroke="none" stroke-width="0.6"/>
<rect x="391" y="48" width="21.6" height="11" fill="#ffff00" stroke="#808080" stroke-width="0.45"/>
<rect x="412.6" y="48" width="25" height="11" fill="#ff00ff" stroke="#808080" stroke-width="0.45"/>
<rect x="437.6" y="48" width="30.4" height="11" fill="#0000ff" stroke="#808080" stroke-width="0.45"/>
<rect x="468" y="48" width="8" height="11" fill="#00dd00" stroke="#808080" stroke-width="0.45"/>
<line x1="410.2" y1="53.5" x2="415" y2="53.5" stroke="#1a1a1a" stroke-width="0.75"/>
<line x1="410.2" y1="52.4" x2="410.2" y2="54.6" stroke="#1a1a1a" stroke-width="0.6"/>
<line x1="415" y1="52.4" x2="415" y2="54.6" stroke="#1a1a1a" stroke-width="0.6"/>
<rect x="411.8" y="52.7" width="1.6" height="1.6" fill="#111" stroke="none" stroke-width="0.6"/>
<line x1="435.2" y1="53.5" x2="440" y2="53.5" stroke="#1a1a1a" stroke-width="0.75"/>
<line x1="435.2" y1="52.4" x2="435.2" y2="54.6" stroke="#1a1a1a" stroke-width="0.6"/>
<line x1="440" y1="52.4" x2="440" y2="54.6" stroke="#1a1a1a" stroke-width="0.6"/>
<rect x="436.8" y="52.7" width="1.6" height="1.6" fill="#111" stroke="none" stroke-width="0.6"/>
<line x1="465.6" y1="53.5" x2="470.4" y2="53.5" stroke="#1a1a1a" stroke-width="0.75"/>
<line x1="465.6" y1="52.4" x2="465.6" y2="54.6" stroke="#1a1a1a" stroke-width="0.6"/>
<line x1="470.4" y1="52.4" x2="470.4" y2="54.6" stroke="#1a1a1a" stroke-width="0.6"/>
<rect x="467.2" y="52.7" width="1.6" height="1.6" fill="#111" stroke="none" stroke-width="0.6"/>
<line x1="473.6" y1="53.5" x2="478.4" y2="53.5" stroke="#1a1a1a" stroke-width="0.75"/>
<line x1="473.6" y1="52.4" x2="473.6" y2="54.6" stroke="#1a1a1a" stroke-width="0.6"/>
<line x1="478.4" y1="52.4" x2="478.4" y2="54.6" stroke="#1a1a1a" stroke-width="0.6"/>
<rect x="475.2" y="52.7" width="1.6" height="1.6" fill="#111" stroke="none" stroke-width="0.6"/>
<rect x="391" y="68.6" width="26" height="10.6" fill="#ffff00" stroke="#808080" stroke-width="0.45"/>
<rect x="417" y="68.6" width="30" height="10.6" fill="#ff00ff" stroke="#808080" stroke-width="0.45"/>
<rect x="447" y="68.6" width="36" height="10.6" fill="#0000ff" stroke="#808080" stroke-width="0.45"/>
<rect x="483" y="68.6" width="19" height="10.6" fill="#00dd00" stroke="#808080" stroke-width="0.45"/>
<line x1="414.6" y1="73.9" x2="419.4" y2="73.9" stroke="#1a1a1a" stroke-width="0.75"/>
<line x1="414.6" y1="72.8" x2="414.6" y2="75" stroke="#1a1a1a" stroke-width="0.6"/>
<line x1="419.4" y1="72.8" x2="419.4" y2="75" stroke="#1a1a1a" stroke-width="0.6"/>
<rect x="416.2" y="73.1" width="1.6" height="1.6" fill="#111" stroke="none" stroke-width="0.6"/>
<line x1="444.6" y1="73.9" x2="449.4" y2="73.9" stroke="#1a1a1a" stroke-width="0.75"/>
<line x1="444.6" y1="72.8" x2="444.6" y2="75" stroke="#1a1a1a" stroke-width="0.6"/>
<line x1="449.4" y1="72.8" x2="449.4" y2="75" stroke="#1a1a1a" stroke-width="0.6"/>
<rect x="446.2" y="73.1" width="1.6" height="1.6" fill="#111" stroke="none" stroke-width="0.6"/>
<line x1="480.6" y1="73.9" x2="485.4" y2="73.9" stroke="#1a1a1a" stroke-width="0.75"/>
<line x1="480.6" y1="72.8" x2="480.6" y2="75" stroke="#1a1a1a" stroke-width="0.6"/>
<line x1="485.4" y1="72.8" x2="485.4" y2="75" stroke="#1a1a1a" stroke-width="0.6"/>
<rect x="482.2" y="73.1" width="1.6" height="1.6" fill="#111" stroke="none" stroke-width="0.6"/>
<line x1="499.6" y1="73.9" x2="504.4" y2="73.9" stroke="#1a1a1a" stroke-width="0.75"/>
<line x1="499.6" y1="72.8" x2="499.6" y2="75" stroke="#1a1a1a" stroke-width="0.6"/>
<line x1="504.4" y1="72.8" x2="504.4" y2="75" stroke="#1a1a1a" stroke-width="0.6"/>
<rect x="501.2" y="73.1" width="1.6" height="1.6" fill="#111" stroke="none" stroke-width="0.6"/>
<rect x="391" y="89.4" width="23" height="10.6" fill="#ffff00" stroke="#808080" stroke-width="0.45"/>
<rect x="414" y="89.4" width="28.4" height="10.6" fill="#ff00ff" stroke="#808080" stroke-width="0.45"/>
<rect x="442.4" y="89.4" width="31" height="10.6" fill="#0000ff" stroke="#808080" stroke-width="0.45"/>
<rect x="473.4" y="89.4" width="11.2" height="10.6" fill="#00dd00" stroke="#808080" stroke-width="0.45"/>
<line x1="411.6" y1="94.7" x2="416.4" y2="94.7" stroke="#1a1a1a" stroke-width="0.75"/>
<line x1="411.6" y1="93.6" x2="411.6" y2="95.8" stroke="#1a1a1a" stroke-width="0.6"/>
<line x1="416.4" y1="93.6" x2="416.4" y2="95.8" stroke="#1a1a1a" stroke-width="0.6"/>
<rect x="413.2" y="93.9" width="1.6" height="1.6" fill="#111" stroke="none" stroke-width="0.6"/>
<line x1="440" y1="94.7" x2="444.8" y2="94.7" stroke="#1a1a1a" stroke-width="0.75"/>
<line x1="440" y1="93.6" x2="440" y2="95.8" stroke="#1a1a1a" stroke-width="0.6"/>
<line x1="444.8" y1="93.6" x2="444.8" y2="95.8" stroke="#1a1a1a" stroke-width="0.6"/>
<rect x="441.6" y="93.9" width="1.6" height="1.6" fill="#111" stroke="none" stroke-width="0.6"/>
<line x1="471" y1="94.7" x2="475.8" y2="94.7" stroke="#1a1a1a" stroke-width="0.75"/>
<line x1="471" y1="93.6" x2="471" y2="95.8" stroke="#1a1a1a" stroke-width="0.6"/>
<line x1="475.8" y1="93.6" x2="475.8" y2="95.8" stroke="#1a1a1a" stroke-width="0.6"/>
<rect x="472.6" y="93.9" width="1.6" height="1.6" fill="#111" stroke="none" stroke-width="0.6"/>
<line x1="482.2" y1="94.7" x2="487" y2="94.7" stroke="#1a1a1a" stroke-width="0.75"/>
<line x1="482.2" y1="93.6" x2="482.2" y2="95.8" stroke="#1a1a1a" stroke-width="0.6"/>
<line x1="487" y1="93.6" x2="487" y2="95.8" stroke="#1a1a1a" stroke-width="0.6"/>
<rect x="483.8" y="93.9" width="1.6" height="1.6" fill="#111" stroke="none" stroke-width="0.6"/>
<line x1="391" y1="21.6" x2="391" y2="125.6" stroke="#666" stroke-width="0.8"/>
<line x1="391" y1="125.6" x2="517" y2="125.6" stroke="#666" stroke-width="0.8"/>
<line x1="390" y1="43" x2="392" y2="43" stroke="#555" stroke-width="0.7"/>
<line x1="390" y1="63.8" x2="392" y2="63.8" stroke="#555" stroke-width="0.7"/>
<line x1="390" y1="84.3" x2="392" y2="84.3" stroke="#555" stroke-width="0.7"/>
<line x1="390" y1="105" x2="392" y2="105" stroke="#555" stroke-width="0.7"/>
<line x1="390" y1="22.1" x2="392" y2="22.1" stroke="#555" stroke-width="0.7"/>
<text x="389.4" y="36.8" font-size="12.6" text-anchor="end" textLength="5.6" lengthAdjust="spacingAndGlyphs" fill="#3a3a3a" stroke="#3a3a3a" stroke-width="0.35">9</text>
<text x="389.4" y="57.8" font-size="12.6" text-anchor="end" textLength="5.6" lengthAdjust="spacingAndGlyphs" fill="#3a3a3a" stroke="#3a3a3a" stroke-width="0.35">8</text>
<text x="389.4" y="78.2" font-size="12.6" text-anchor="end" textLength="5.6" lengthAdjust="spacingAndGlyphs" fill="#3a3a3a" stroke="#3a3a3a" stroke-width="0.35">7</text>
<text x="389.4" y="99" font-size="12.6" text-anchor="end" textLength="5.6" lengthAdjust="spacingAndGlyphs" fill="#3a3a3a" stroke="#3a3a3a" stroke-width="0.35">6</text>
<text x="389.4" y="118.9" font-size="12.6" text-anchor="end" textLength="5.6" lengthAdjust="spacingAndGlyphs" fill="#3a3a3a" stroke="#3a3a3a" stroke-width="0.35">5</text>
<text x="391" y="139.5" font-size="12.4" text-anchor="middle" textLength="4.8" lengthAdjust="spacingAndGlyphs" fill="#3a3a3a" stroke="#3a3a3a" stroke-width="0.35">0</text>
<line x1="391" y1="125.6" x2="391" y2="128" stroke="#555" stroke-width="0.7"/>
<text x="410" y="139.5" font-size="12.4" text-anchor="middle" textLength="10.1" lengthAdjust="spacingAndGlyphs" fill="#3a3a3a" stroke="#3a3a3a" stroke-width="0.35">10</text>
<line x1="410" y1="125.6" x2="410" y2="128" stroke="#555" stroke-width="0.7"/>
<text x="429" y="139.5" font-size="12.4" text-anchor="middle" textLength="10.1" lengthAdjust="spacingAndGlyphs" fill="#3a3a3a" stroke="#3a3a3a" stroke-width="0.35">20</text>
<line x1="429" y1="125.6" x2="429" y2="128" stroke="#555" stroke-width="0.7"/>
<text x="448" y="139.5" font-size="12.4" text-anchor="middle" textLength="10.1" lengthAdjust="spacingAndGlyphs" fill="#3a3a3a" stroke="#3a3a3a" stroke-width="0.35">30</text>
<line x1="448" y1="125.6" x2="448" y2="128" stroke="#555" stroke-width="0.7"/>
<text x="467" y="139.5" font-size="12.4" text-anchor="middle" textLength="10.1" lengthAdjust="spacingAndGlyphs" fill="#3a3a3a" stroke="#3a3a3a" stroke-width="0.35">40</text>
<line x1="467" y1="125.6" x2="467" y2="128" stroke="#555" stroke-width="0.7"/>
<text x="486" y="139.5" font-size="12.4" text-anchor="middle" textLength="10.1" lengthAdjust="spacingAndGlyphs" fill="#3a3a3a" stroke="#3a3a3a" stroke-width="0.35">50</text>
<line x1="486" y1="125.6" x2="486" y2="128" stroke="#555" stroke-width="0.7"/>
<text x="505" y="139.5" font-size="12.4" text-anchor="middle" textLength="10.1" lengthAdjust="spacingAndGlyphs" fill="#3a3a3a" stroke="#3a3a3a" stroke-width="0.35">60</text>
<line x1="505" y1="125.6" x2="505" y2="128" stroke="#555" stroke-width="0.7"/>
<line x1="391" y1="125.6" x2="391" y2="127" stroke="#888" stroke-width="0.5"/>
<line x1="394.8" y1="125.6" x2="394.8" y2="127" stroke="#888" stroke-width="0.5"/>
<line x1="398.6" y1="125.6" x2="398.6" y2="127" stroke="#888" stroke-width="0.5"/>
<line x1="402.4" y1="125.6" x2="402.4" y2="127" stroke="#888" stroke-width="0.5"/>
<line x1="406.2" y1="125.6" x2="406.2" y2="127" stroke="#888" stroke-width="0.5"/>
<line x1="410" y1="125.6" x2="410" y2="127" stroke="#888" stroke-width="0.5"/>
<line x1="413.8" y1="125.6" x2="413.8" y2="127" stroke="#888" stroke-width="0.5"/>
<line x1="417.6" y1="125.6" x2="417.6" y2="127" stroke="#888" stroke-width="0.5"/>
<line x1="421.4" y1="125.6" x2="421.4" y2="127" stroke="#888" stroke-width="0.5"/>
<line x1="425.2" y1="125.6" x2="425.2" y2="127" stroke="#888" stroke-width="0.5"/>
<line x1="429" y1="125.6" x2="429" y2="127" stroke="#888" stroke-width="0.5"/>
<line x1="432.8" y1="125.6" x2="432.8" y2="127" stroke="#888" stroke-width="0.5"/>
<line x1="436.6" y1="125.6" x2="436.6" y2="127" stroke="#888" stroke-width="0.5"/>
<line x1="440.4" y1="125.6" x2="440.4" y2="127" stroke="#888" stroke-width="0.5"/>
<line x1="444.2" y1="125.6" x2="444.2" y2="127" stroke="#888" stroke-width="0.5"/>
<line x1="448" y1="125.6" x2="448" y2="127" stroke="#888" stroke-width="0.5"/>
<line x1="451.8" y1="125.6" x2="451.8" y2="127" stroke="#888" stroke-width="0.5"/>
<line x1="455.6" y1="125.6" x2="455.6" y2="127" stroke="#888" stroke-width="0.5"/>
<line x1="459.4" y1="125.6" x2="459.4" y2="127" stroke="#888" stroke-width="0.5"/>
<line x1="463.2" y1="125.6" x2="463.2" y2="127" stroke="#888" stroke-width="0.5"/>
<line x1="467" y1="125.6" x2="467" y2="127" stroke="#888" stroke-width="0.5"/>
<line x1="470.8" y1="125.6" x2="470.8" y2="127" stroke="#888" stroke-width="0.5"/>
<line x1="474.6" y1="125.6" x2="474.6" y2="127" stroke="#888" stroke-width="0.5"/>
<line x1="478.4" y1="125.6" x2="478.4" y2="127" stroke="#888" stroke-width="0.5"/>
<line x1="482.2" y1="125.6" x2="482.2" y2="127" stroke="#888" stroke-width="0.5"/>
<line x1="486" y1="125.6" x2="486" y2="127" stroke="#888" stroke-width="0.5"/>
<line x1="489.8" y1="125.6" x2="489.8" y2="127" stroke="#888" stroke-width="0.5"/>
<line x1="493.6" y1="125.6" x2="493.6" y2="127" stroke="#888" stroke-width="0.5"/>
<line x1="497.4" y1="125.6" x2="497.4" y2="127" stroke="#888" stroke-width="0.5"/>
<line x1="501.2" y1="125.6" x2="501.2" y2="127" stroke="#888" stroke-width="0.5"/>
<line x1="505" y1="125.6" x2="505" y2="127" stroke="#888" stroke-width="0.5"/>
<line x1="508.8" y1="125.6" x2="508.8" y2="127" stroke="#888" stroke-width="0.5"/>
<line x1="512.6" y1="125.6" x2="512.6" y2="127" stroke="#888" stroke-width="0.5"/>
<line x1="516.4" y1="125.6" x2="516.4" y2="127" stroke="#888" stroke-width="0.5"/>
<rect x="488.8" y="92.7" width="28.8" height="31.5" fill="#fff" stroke="#c4c4c4" stroke-width="0.6"/>
<rect x="489.7" y="94.1" width="13.5" height="6.7" fill="#00dd00" stroke="#8a8a8a" stroke-width="0.5"/>
<text x="506.1" y="99.7" font-size="7.5" text-anchor="start" textLength="10.5" lengthAdjust="spacingAndGlyphs" fill="#3c3c3c" stroke="#3c3c3c" stroke-width="0.15">CAD</text>
<rect x="489.7" y="101.5" width="13.5" height="6.8" fill="#0000ff" stroke="#8a8a8a" stroke-width="0.5"/>
<text x="506.1" y="107.2" font-size="7.5" text-anchor="start" textLength="10.5" lengthAdjust="spacingAndGlyphs" fill="#3c3c3c" stroke="#3c3c3c" stroke-width="0.15">PUT</text>
<rect x="489.7" y="109.4" width="13.5" height="6.3" fill="#ff00ff" stroke="#8a8a8a" stroke-width="0.5"/>
<text x="506.1" y="114.6" font-size="7.5" text-anchor="start" textLength="10.5" lengthAdjust="spacingAndGlyphs" fill="#3c3c3c" stroke="#3c3c3c" stroke-width="0.15">TYR</text>
<rect x="489.7" y="116.6" width="13.5" height="6.5" fill="#ffff00" stroke="#8a8a8a" stroke-width="0.5"/>
<text x="506.1" y="122" font-size="7.5" text-anchor="start" textLength="10.5" lengthAdjust="spacingAndGlyphs" fill="#3c3c3c" stroke="#3c3c3c" stroke-width="0.15">HIM</text>
<text transform="translate(372.8,87.3) rotate(-90)" font-size="11.8" font-weight="bold" textLength="12.9" lengthAdjust="spacingAndGlyphs" fill="#161616" stroke="#161616" stroke-width="0.2">pH</text>
<text x="399.4" y="159" font-size="11" text-anchor="start" font-weight="bold" textLength="81.4" lengthAdjust="spacingAndGlyphs" fill="#161616" stroke="#161616" stroke-width="0.15">Degradation Rate</text>
<path d="M485.62,151.28 Q481.32,154.6 485.62,157.92" fill="none" stroke="#161616" stroke-width="1.35" stroke-linecap="round"/>
<text x="489" y="159.5" font-size="13.5" text-anchor="start" font-weight="bold" textLength="10.4" lengthAdjust="spacingAndGlyphs" fill="#161616" stroke="#161616" stroke-width="0.2">%</text>
<path d="M502.68,151.28 Q506.97,154.6 502.68,157.92" fill="none" stroke="#161616" stroke-width="1.35" stroke-linecap="round"/>
<text x="380.6" y="9.1" font-size="15.6" text-anchor="start" font-weight="bold" textLength="6.2" lengthAdjust="spacingAndGlyphs" fill="#000" stroke="#000" stroke-width="0.4">c</text>
<line x1="553.5" y1="42.3" x2="663" y2="42.3" stroke="#ececec" stroke-width="0.6"/>
<line x1="553.5" y1="63.8" x2="663" y2="63.8" stroke="#ececec" stroke-width="0.6"/>
<line x1="553.5" y1="84.8" x2="663" y2="84.8" stroke="#ececec" stroke-width="0.6"/>
<line x1="553.5" y1="105.8" x2="663" y2="105.8" stroke="#ececec" stroke-width="0.6"/>
<rect x="553.5" y="47.6" width="7.1" height="11" fill="#00ffff" stroke="#808080" stroke-width="0.45"/>
<line x1="558.2" y1="53.1" x2="563" y2="53.1" stroke="#1a1a1a" stroke-width="0.75"/>
<line x1="558.2" y1="52" x2="558.2" y2="54.2" stroke="#1a1a1a" stroke-width="0.6"/>
<line x1="563" y1="52" x2="563" y2="54.2" stroke="#1a1a1a" stroke-width="0.6"/>
<rect x="559.8" y="52.3" width="1.6" height="1.6" fill="#111" stroke="none" stroke-width="0.6"/>
<rect x="553.5" y="69" width="9.1" height="10.6" fill="#00ffff" stroke="#808080" stroke-width="0.45"/>
<rect x="562.6" y="69" width="1" height="10.6" fill="#ffff77" stroke="#808080" stroke-width="0.45"/>
<line x1="560.2" y1="74.3" x2="565" y2="74.3" stroke="#1a1a1a" stroke-width="0.75"/>
<line x1="560.2" y1="73.2" x2="560.2" y2="75.4" stroke="#1a1a1a" stroke-width="0.6"/>
<line x1="565" y1="73.2" x2="565" y2="75.4" stroke="#1a1a1a" stroke-width="0.6"/>
<rect x="561.8" y="73.5" width="1.6" height="1.6" fill="#111" stroke="none" stroke-width="0.6"/>
<line x1="561.2" y1="74.3" x2="566" y2="74.3" stroke="#1a1a1a" stroke-width="0.75"/>
<line x1="561.2" y1="73.2" x2="561.2" y2="75.4" stroke="#1a1a1a" stroke-width="0.6"/>
<line x1="566" y1="73.2" x2="566" y2="75.4" stroke="#1a1a1a" stroke-width="0.6"/>
<rect x="562.8" y="73.5" width="1.6" height="1.6" fill="#111" stroke="none" stroke-width="0.6"/>
<rect x="553.5" y="90" width="14" height="10.6" fill="#00ffff" stroke="#808080" stroke-width="0.45"/>
<rect x="567.5" y="90" width="12.7" height="10.6" fill="#8c8cbb" stroke="#808080" stroke-width="0.45"/>
<rect x="580.2" y="90" width="16" height="10.6" fill="#ffff77" stroke="#808080" stroke-width="0.45"/>
<rect x="596.2" y="90" width="12.6" height="10.6" fill="#ff5a5a" stroke="#808080" stroke-width="0.45"/>
<line x1="565.1" y1="95.3" x2="569.9" y2="95.3" stroke="#1a1a1a" stroke-width="0.75"/>
<line x1="565.1" y1="94.2" x2="565.1" y2="96.4" stroke="#1a1a1a" stroke-width="0.6"/>
<line x1="569.9" y1="94.2" x2="569.9" y2="96.4" stroke="#1a1a1a" stroke-width="0.6"/>
<rect x="566.7" y="94.5" width="1.6" height="1.6" fill="#111" stroke="none" stroke-width="0.6"/>
<line x1="577.8" y1="95.3" x2="582.6" y2="95.3" stroke="#1a1a1a" stroke-width="0.75"/>
<line x1="577.8" y1="94.2" x2="577.8" y2="96.4" stroke="#1a1a1a" stroke-width="0.6"/>
<line x1="582.6" y1="94.2" x2="582.6" y2="96.4" stroke="#1a1a1a" stroke-width="0.6"/>
<rect x="579.4" y="94.5" width="1.6" height="1.6" fill="#111" stroke="none" stroke-width="0.6"/>
<line x1="593.8" y1="95.3" x2="598.6" y2="95.3" stroke="#1a1a1a" stroke-width="0.75"/>
<line x1="593.8" y1="94.2" x2="593.8" y2="96.4" stroke="#1a1a1a" stroke-width="0.6"/>
<line x1="598.6" y1="94.2" x2="598.6" y2="96.4" stroke="#1a1a1a" stroke-width="0.6"/>
<rect x="595.4" y="94.5" width="1.6" height="1.6" fill="#111" stroke="none" stroke-width="0.6"/>
<line x1="606.4" y1="95.3" x2="611.2" y2="95.3" stroke="#1a1a1a" stroke-width="0.75"/>
<line x1="606.4" y1="94.2" x2="606.4" y2="96.4" stroke="#1a1a1a" stroke-width="0.6"/>
<line x1="611.2" y1="94.2" x2="611.2" y2="96.4" stroke="#1a1a1a" stroke-width="0.6"/>
<rect x="608" y="94.5" width="1.6" height="1.6" fill="#111" stroke="none" stroke-width="0.6"/>
<rect x="553.5" y="111" width="24.9" height="10.4" fill="#00ffff" stroke="#808080" stroke-width="0.45"/>
<rect x="578.4" y="111" width="27.6" height="10.4" fill="#8c8cbb" stroke="#808080" stroke-width="0.45"/>
<rect x="606" y="111" width="29.4" height="10.4" fill="#ffff77" stroke="#808080" stroke-width="0.45"/>
<rect x="635.4" y="111" width="13.8" height="10.4" fill="#ff5a5a" stroke="#808080" stroke-width="0.45"/>
<line x1="576" y1="116.2" x2="580.8" y2="116.2" stroke="#1a1a1a" stroke-width="0.75"/>
<line x1="576" y1="115.1" x2="576" y2="117.3" stroke="#1a1a1a" stroke-width="0.6"/>
<line x1="580.8" y1="115.1" x2="580.8" y2="117.3" stroke="#1a1a1a" stroke-width="0.6"/>
<rect x="577.6" y="115.4" width="1.6" height="1.6" fill="#111" stroke="none" stroke-width="0.6"/>
<line x1="603.6" y1="116.2" x2="608.4" y2="116.2" stroke="#1a1a1a" stroke-width="0.75"/>
<line x1="603.6" y1="115.1" x2="603.6" y2="117.3" stroke="#1a1a1a" stroke-width="0.6"/>
<line x1="608.4" y1="115.1" x2="608.4" y2="117.3" stroke="#1a1a1a" stroke-width="0.6"/>
<rect x="605.2" y="115.4" width="1.6" height="1.6" fill="#111" stroke="none" stroke-width="0.6"/>
<line x1="633" y1="116.2" x2="637.8" y2="116.2" stroke="#1a1a1a" stroke-width="0.75"/>
<line x1="633" y1="115.1" x2="633" y2="117.3" stroke="#1a1a1a" stroke-width="0.6"/>
<line x1="637.8" y1="115.1" x2="637.8" y2="117.3" stroke="#1a1a1a" stroke-width="0.6"/>
<rect x="634.6" y="115.4" width="1.6" height="1.6" fill="#111" stroke="none" stroke-width="0.6"/>
<line x1="646.8" y1="116.2" x2="651.6" y2="116.2" stroke="#1a1a1a" stroke-width="0.75"/>
<line x1="646.8" y1="115.1" x2="646.8" y2="117.3" stroke="#1a1a1a" stroke-width="0.6"/>
<line x1="651.6" y1="115.1" x2="651.6" y2="117.3" stroke="#1a1a1a" stroke-width="0.6"/>
<rect x="648.4" y="115.4" width="1.6" height="1.6" fill="#111" stroke="none" stroke-width="0.6"/>
<line x1="553.5" y1="21" x2="553.5" y2="126.4" stroke="#666" stroke-width="0.8"/>
<line x1="553.5" y1="126.4" x2="663" y2="126.4" stroke="#666" stroke-width="0.8"/>
<line x1="552.5" y1="42.3" x2="554.5" y2="42.3" stroke="#555" stroke-width="0.7"/>
<line x1="552.5" y1="63.8" x2="554.5" y2="63.8" stroke="#555" stroke-width="0.7"/>
<line x1="552.5" y1="84.8" x2="554.5" y2="84.8" stroke="#555" stroke-width="0.7"/>
<line x1="552.5" y1="105.8" x2="554.5" y2="105.8" stroke="#555" stroke-width="0.7"/>
<line x1="552.5" y1="21.5" x2="554.5" y2="21.5" stroke="#555" stroke-width="0.7"/>
<text x="552" y="57.4" font-size="12.6" text-anchor="end" textLength="9.18" lengthAdjust="spacingAndGlyphs" fill="#3a3a3a" stroke="#3a3a3a" stroke-width="0.35">10</text>
<text x="552" y="78.6" font-size="12.6" text-anchor="end" textLength="4.77" lengthAdjust="spacingAndGlyphs" fill="#3a3a3a" stroke="#3a3a3a" stroke-width="0.35">5</text>
<text x="552" y="99.6" font-size="12.6" text-anchor="end" textLength="4.77" lengthAdjust="spacingAndGlyphs" fill="#3a3a3a" stroke="#3a3a3a" stroke-width="0.35">2</text>
<text x="552" y="120.5" font-size="12.6" text-anchor="end" textLength="4.77" lengthAdjust="spacingAndGlyphs" fill="#3a3a3a" stroke="#3a3a3a" stroke-width="0.35">0</text>
<text x="552" y="35.6" font-size="12.6" text-anchor="end" textLength="9" lengthAdjust="spacingAndGlyphs" fill="#3a3a3a" stroke="#3a3a3a" stroke-width="0.35">15</text>
<text x="553.5" y="140.2" font-size="12.4" text-anchor="middle" textLength="4.8" lengthAdjust="spacingAndGlyphs" fill="#3a3a3a" stroke="#3a3a3a" stroke-width="0.35">0</text>
<line x1="553.5" y1="126.4" x2="553.5" y2="128.8" stroke="#555" stroke-width="0.7"/>
<text x="572.5" y="140.2" font-size="12.4" text-anchor="middle" textLength="10.1" lengthAdjust="spacingAndGlyphs" fill="#3a3a3a" stroke="#3a3a3a" stroke-width="0.35">10</text>
<line x1="572.5" y1="126.4" x2="572.5" y2="128.8" stroke="#555" stroke-width="0.7"/>
<text x="591.5" y="140.2" font-size="12.4" text-anchor="middle" textLength="10.1" lengthAdjust="spacingAndGlyphs" fill="#3a3a3a" stroke="#3a3a3a" stroke-width="0.35">20</text>
<line x1="591.5" y1="126.4" x2="591.5" y2="128.8" stroke="#555" stroke-width="0.7"/>
<text x="610.5" y="140.2" font-size="12.4" text-anchor="middle" textLength="10.1" lengthAdjust="spacingAndGlyphs" fill="#3a3a3a" stroke="#3a3a3a" stroke-width="0.35">30</text>
<line x1="610.5" y1="126.4" x2="610.5" y2="128.8" stroke="#555" stroke-width="0.7"/>
<text x="629.5" y="140.2" font-size="12.4" text-anchor="middle" textLength="10.1" lengthAdjust="spacingAndGlyphs" fill="#3a3a3a" stroke="#3a3a3a" stroke-width="0.35">40</text>
<line x1="629.5" y1="126.4" x2="629.5" y2="128.8" stroke="#555" stroke-width="0.7"/>
<text x="648.5" y="140.2" font-size="12.4" text-anchor="middle" textLength="10.1" lengthAdjust="spacingAndGlyphs" fill="#3a3a3a" stroke="#3a3a3a" stroke-width="0.35">50</text>
<line x1="648.5" y1="126.4" x2="648.5" y2="128.8" stroke="#555" stroke-width="0.7"/>
<line x1="553.5" y1="126.4" x2="553.5" y2="127.8" stroke="#888" stroke-width="0.5"/>
<line x1="557.3" y1="126.4" x2="557.3" y2="127.8" stroke="#888" stroke-width="0.5"/>
<line x1="561.1" y1="126.4" x2="561.1" y2="127.8" stroke="#888" stroke-width="0.5"/>
<line x1="564.9" y1="126.4" x2="564.9" y2="127.8" stroke="#888" stroke-width="0.5"/>
<line x1="568.7" y1="126.4" x2="568.7" y2="127.8" stroke="#888" stroke-width="0.5"/>
<line x1="572.5" y1="126.4" x2="572.5" y2="127.8" stroke="#888" stroke-width="0.5"/>
<line x1="576.3" y1="126.4" x2="576.3" y2="127.8" stroke="#888" stroke-width="0.5"/>
<line x1="580.1" y1="126.4" x2="580.1" y2="127.8" stroke="#888" stroke-width="0.5"/>
<line x1="583.9" y1="126.4" x2="583.9" y2="127.8" stroke="#888" stroke-width="0.5"/>
<line x1="587.7" y1="126.4" x2="587.7" y2="127.8" stroke="#888" stroke-width="0.5"/>
<line x1="591.5" y1="126.4" x2="591.5" y2="127.8" stroke="#888" stroke-width="0.5"/>
<line x1="595.3" y1="126.4" x2="595.3" y2="127.8" stroke="#888" stroke-width="0.5"/>
<line x1="599.1" y1="126.4" x2="599.1" y2="127.8" stroke="#888" stroke-width="0.5"/>
<line x1="602.9" y1="126.4" x2="602.9" y2="127.8" stroke="#888" stroke-width="0.5"/>
<line x1="606.7" y1="126.4" x2="606.7" y2="127.8" stroke="#888" stroke-width="0.5"/>
<line x1="610.5" y1="126.4" x2="610.5" y2="127.8" stroke="#888" stroke-width="0.5"/>
<line x1="614.3" y1="126.4" x2="614.3" y2="127.8" stroke="#888" stroke-width="0.5"/>
<line x1="618.1" y1="126.4" x2="618.1" y2="127.8" stroke="#888" stroke-width="0.5"/>
<line x1="621.9" y1="126.4" x2="621.9" y2="127.8" stroke="#888" stroke-width="0.5"/>
<line x1="625.7" y1="126.4" x2="625.7" y2="127.8" stroke="#888" stroke-width="0.5"/>
<line x1="629.5" y1="126.4" x2="629.5" y2="127.8" stroke="#888" stroke-width="0.5"/>
<line x1="633.3" y1="126.4" x2="633.3" y2="127.8" stroke="#888" stroke-width="0.5"/>
<line x1="637.1" y1="126.4" x2="637.1" y2="127.8" stroke="#888" stroke-width="0.5"/>
<line x1="640.9" y1="126.4" x2="640.9" y2="127.8" stroke="#888" stroke-width="0.5"/>
<line x1="644.7" y1="126.4" x2="644.7" y2="127.8" stroke="#888" stroke-width="0.5"/>
<line x1="648.5" y1="126.4" x2="648.5" y2="127.8" stroke="#888" stroke-width="0.5"/>
<line x1="652.3" y1="126.4" x2="652.3" y2="127.8" stroke="#888" stroke-width="0.5"/>
<line x1="656.1" y1="126.4" x2="656.1" y2="127.8" stroke="#888" stroke-width="0.5"/>
<line x1="659.9" y1="126.4" x2="659.9" y2="127.8" stroke="#888" stroke-width="0.5"/>
<rect x="651.5" y="94.4" width="25.1" height="31.8" fill="#fff" stroke="#c4c4c4" stroke-width="0.6"/>
<rect x="652.5" y="95.4" width="11.5" height="7" fill="#ff5a5a" stroke="#8a8a8a" stroke-width="0.5"/>
<text x="666.9" y="101.3" font-size="7.5" text-anchor="start" textLength="8.7" lengthAdjust="spacingAndGlyphs" fill="#3c3c3c" stroke="#3c3c3c" stroke-width="0.15">CAD</text>
<rect x="652.5" y="103" width="11.5" height="7.3" fill="#ffff77" stroke="#8a8a8a" stroke-width="0.5"/>
<text x="666.9" y="109.2" font-size="7.5" text-anchor="start" textLength="8.7" lengthAdjust="spacingAndGlyphs" fill="#3c3c3c" stroke="#3c3c3c" stroke-width="0.15">PUT</text>
<rect x="652.5" y="111" width="11.5" height="7" fill="#8c8cbb" stroke="#8a8a8a" stroke-width="0.5"/>
<text x="666.9" y="116.9" font-size="7.5" text-anchor="start" textLength="8.7" lengthAdjust="spacingAndGlyphs" fill="#3c3c3c" stroke="#3c3c3c" stroke-width="0.15">TYR</text>
<rect x="652.5" y="118.5" width="11.5" height="7" fill="#00ffff" stroke="#8a8a8a" stroke-width="0.5"/>
<text x="666.9" y="124.4" font-size="7.5" text-anchor="start" textLength="8.7" lengthAdjust="spacingAndGlyphs" fill="#3c3c3c" stroke="#3c3c3c" stroke-width="0.15">HIM</text>
<text transform="translate(536.9,138.6) rotate(-90)" font-size="12" font-weight="bold" textLength="103.2" lengthAdjust="spacingAndGlyphs" fill="#161616" stroke="#161616" stroke-width="0.15">Ethanol concentration</text>
<path d="M529.27,26.38 Q532.85,30.27 536.43,26.38" fill="none" stroke="#161616" stroke-width="1.35" stroke-linecap="round"/>
<path d="M529.27,10.62 Q532.85,6.73 536.43,10.62" fill="none" stroke="#161616" stroke-width="1.35" stroke-linecap="round"/>
<text transform="translate(537.2,23.9) rotate(-90)" font-size="12.5" font-weight="bold" textLength="10.4" lengthAdjust="spacingAndGlyphs" fill="#161616" stroke="#161616" stroke-width="0.15">%</text>
<text x="555.3" y="159" font-size="11" text-anchor="start" font-weight="bold" textLength="81.4" lengthAdjust="spacingAndGlyphs" fill="#161616" stroke="#161616" stroke-width="0.15">Degradation Rate</text>
<path d="M641.52,151.28 Q637.22,154.6 641.52,157.92" fill="none" stroke="#161616" stroke-width="1.35" stroke-linecap="round"/>
<text x="644.9" y="159.5" font-size="13.5" text-anchor="start" font-weight="bold" textLength="10.4" lengthAdjust="spacingAndGlyphs" fill="#161616" stroke="#161616" stroke-width="0.2">%</text>
<path d="M658.57,151.28 Q662.88,154.6 658.57,157.92" fill="none" stroke="#161616" stroke-width="1.35" stroke-linecap="round"/>
<text x="541.8" y="9.7" font-size="15.6" text-anchor="start" font-weight="bold" textLength="7.8" lengthAdjust="spacingAndGlyphs" fill="#000" stroke="#000" stroke-width="0.4">d</text>
<line x1="74.6" y1="190.9" x2="193" y2="190.9" stroke="#ececec" stroke-width="0.6"/>
<line x1="74.6" y1="211.45" x2="193" y2="211.45" stroke="#ececec" stroke-width="0.6"/>
<line x1="74.6" y1="232.2" x2="193" y2="232.2" stroke="#ececec" stroke-width="0.6"/>
<line x1="74.6" y1="252.6" x2="193" y2="252.6" stroke="#ececec" stroke-width="0.6"/>
<rect x="74.6" y="175.4" width="7.4" height="10.4" fill="#00ff00" stroke="#808080" stroke-width="0.45"/>
<rect x="82" y="175.4" width="6" height="10.4" fill="#ff0000" stroke="#808080" stroke-width="0.45"/>
<rect x="88" y="175.4" width="11.2" height="10.4" fill="#ffff00" stroke="#808080" stroke-width="0.45"/>
<rect x="99.2" y="175.4" width="6.6" height="10.4" fill="#00a2ff" stroke="#808080" stroke-width="0.45"/>
<line x1="79.6" y1="180.6" x2="84.4" y2="180.6" stroke="#1a1a1a" stroke-width="0.75"/>
<line x1="79.6" y1="179.5" x2="79.6" y2="181.7" stroke="#1a1a1a" stroke-width="0.6"/>
<line x1="84.4" y1="179.5" x2="84.4" y2="181.7" stroke="#1a1a1a" stroke-width="0.6"/>
<rect x="81.2" y="179.8" width="1.6" height="1.6" fill="#111" stroke="none" stroke-width="0.6"/>
<line x1="85.6" y1="180.6" x2="90.4" y2="180.6" stroke="#1a1a1a" stroke-width="0.75"/>
<line x1="85.6" y1="179.5" x2="85.6" y2="181.7" stroke="#1a1a1a" stroke-width="0.6"/>
<line x1="90.4" y1="179.5" x2="90.4" y2="181.7" stroke="#1a1a1a" stroke-width="0.6"/>
<rect x="87.2" y="179.8" width="1.6" height="1.6" fill="#111" stroke="none" stroke-width="0.6"/>
<line x1="96.8" y1="180.6" x2="101.6" y2="180.6" stroke="#1a1a1a" stroke-width="0.75"/>
<line x1="96.8" y1="179.5" x2="96.8" y2="181.7" stroke="#1a1a1a" stroke-width="0.6"/>
<line x1="101.6" y1="179.5" x2="101.6" y2="181.7" stroke="#1a1a1a" stroke-width="0.6"/>
<rect x="98.4" y="179.8" width="1.6" height="1.6" fill="#111" stroke="none" stroke-width="0.6"/>
<line x1="103.4" y1="180.6" x2="108.2" y2="180.6" stroke="#1a1a1a" stroke-width="0.75"/>
<line x1="103.4" y1="179.5" x2="103.4" y2="181.7" stroke="#1a1a1a" stroke-width="0.6"/>
<line x1="108.2" y1="179.5" x2="108.2" y2="181.7" stroke="#1a1a1a" stroke-width="0.6"/>
<rect x="105" y="179.8" width="1.6" height="1.6" fill="#111" stroke="none" stroke-width="0.6"/>
<rect x="74.6" y="196" width="7.4" height="10.5" fill="#00ff00" stroke="#808080" stroke-width="0.45"/>
<rect x="82" y="196" width="5" height="10.5" fill="#ff0000" stroke="#808080" stroke-width="0.45"/>
<rect x="87" y="196" width="13.4" height="10.5" fill="#ffff00" stroke="#808080" stroke-width="0.45"/>
<rect x="100.4" y="196" width="7" height="10.5" fill="#00a2ff" stroke="#808080" stroke-width="0.45"/>
<line x1="79.6" y1="201.25" x2="84.4" y2="201.25" stroke="#1a1a1a" stroke-width="0.75"/>
<line x1="79.6" y1="200.15" x2="79.6" y2="202.35" stroke="#1a1a1a" stroke-width="0.6"/>
<line x1="84.4" y1="200.15" x2="84.4" y2="202.35" stroke="#1a1a1a" stroke-width="0.6"/>
<rect x="81.2" y="200.45" width="1.6" height="1.6" fill="#111" stroke="none" stroke-width="0.6"/>
<line x1="84.6" y1="201.25" x2="89.4" y2="201.25" stroke="#1a1a1a" stroke-width="0.75"/>
<line x1="84.6" y1="200.15" x2="84.6" y2="202.35" stroke="#1a1a1a" stroke-width="0.6"/>
<line x1="89.4" y1="200.15" x2="89.4" y2="202.35" stroke="#1a1a1a" stroke-width="0.6"/>
<rect x="86.2" y="200.45" width="1.6" height="1.6" fill="#111" stroke="none" stroke-width="0.6"/>
<line x1="98" y1="201.25" x2="102.8" y2="201.25" stroke="#1a1a1a" stroke-width="0.75"/>
<line x1="98" y1="200.15" x2="98" y2="202.35" stroke="#1a1a1a" stroke-width="0.6"/>
<line x1="102.8" y1="200.15" x2="102.8" y2="202.35" stroke="#1a1a1a" stroke-width="0.6"/>
<rect x="99.6" y="200.45" width="1.6" height="1.6" fill="#111" stroke="none" stroke-width="0.6"/>
<line x1="105" y1="201.25" x2="109.8" y2="201.25" stroke="#1a1a1a" stroke-width="0.75"/>
<line x1="105" y1="200.15" x2="105" y2="202.35" stroke="#1a1a1a" stroke-width="0.6"/>
<line x1="109.8" y1="200.15" x2="109.8" y2="202.35" stroke="#1a1a1a" stroke-width="0.6"/>
<rect x="106.6" y="200.45" width="1.6" height="1.6" fill="#111" stroke="none" stroke-width="0.6"/>
<rect x="74.6" y="216.4" width="9" height="10.6" fill="#00ff00" stroke="#808080" stroke-width="0.45"/>
<rect x="83.6" y="216.4" width="46.4" height="10.6" fill="#ff0000" stroke="#808080" stroke-width="0.45"/>
<rect x="130" y="216.4" width="14.6" height="10.6" fill="#ffff00" stroke="#808080" stroke-width="0.45"/>
<rect x="144.6" y="216.4" width="10" height="10.6" fill="#00a2ff" stroke="#808080" stroke-width="0.45"/>
<line x1="81.2" y1="221.7" x2="86" y2="221.7" stroke="#1a1a1a" stroke-width="0.75"/>
<line x1="81.2" y1="220.6" x2="81.2" y2="222.8" stroke="#1a1a1a" stroke-width="0.6"/>
<line x1="86" y1="220.6" x2="86" y2="222.8" stroke="#1a1a1a" stroke-width="0.6"/>
<rect x="82.8" y="220.9" width="1.6" height="1.6" fill="#111" stroke="none" stroke-width="0.6"/>
<line x1="127.6" y1="221.7" x2="132.4" y2="221.7" stroke="#1a1a1a" stroke-width="0.75"/>
<line x1="127.6" y1="220.6" x2="127.6" y2="222.8" stroke="#1a1a1a" stroke-width="0.6"/>
<line x1="132.4" y1="220.6" x2="132.4" y2="222.8" stroke="#1a1a1a" stroke-width="0.6"/>
<rect x="129.2" y="220.9" width="1.6" height="1.6" fill="#111" stroke="none" stroke-width="0.6"/>
<line x1="142.2" y1="221.7" x2="147" y2="221.7" stroke="#1a1a1a" stroke-width="0.75"/>
<line x1="142.2" y1="220.6" x2="142.2" y2="222.8" stroke="#1a1a1a" stroke-width="0.6"/>
<line x1="147" y1="220.6" x2="147" y2="222.8" stroke="#1a1a1a" stroke-width="0.6"/>
<rect x="143.8" y="220.9" width="1.6" height="1.6" fill="#111" stroke="none" stroke-width="0.6"/>
<line x1="152.2" y1="221.7" x2="157" y2="221.7" stroke="#1a1a1a" stroke-width="0.75"/>
<line x1="152.2" y1="220.6" x2="152.2" y2="222.8" stroke="#1a1a1a" stroke-width="0.6"/>
<line x1="157" y1="220.6" x2="157" y2="222.8" stroke="#1a1a1a" stroke-width="0.6"/>
<rect x="153.8" y="220.9" width="1.6" height="1.6" fill="#111" stroke="none" stroke-width="0.6"/>
<rect x="74.6" y="237.4" width="9.8" height="10.2" fill="#00ff00" stroke="#808080" stroke-width="0.45"/>
<rect x="84.4" y="237.4" width="57.6" height="10.2" fill="#ff0000" stroke="#808080" stroke-width="0.45"/>
<rect x="142" y="237.4" width="21.4" height="10.2" fill="#ffff00" stroke="#808080" stroke-width="0.45"/>
<rect x="163.4" y="237.4" width="5.2" height="10.2" fill="#00a2ff" stroke="#808080" stroke-width="0.45"/>
<line x1="82" y1="242.5" x2="86.8" y2="242.5" stroke="#1a1a1a" stroke-width="0.75"/>
<line x1="82" y1="241.4" x2="82" y2="243.6" stroke="#1a1a1a" stroke-width="0.6"/>
<line x1="86.8" y1="241.4" x2="86.8" y2="243.6" stroke="#1a1a1a" stroke-width="0.6"/>
<rect x="83.6" y="241.7" width="1.6" height="1.6" fill="#111" stroke="none" stroke-width="0.6"/>
<line x1="139.6" y1="242.5" x2="144.4" y2="242.5" stroke="#1a1a1a" stroke-width="0.75"/>
<line x1="139.6" y1="241.4" x2="139.6" y2="243.6" stroke="#1a1a1a" stroke-width="0.6"/>
<line x1="144.4" y1="241.4" x2="144.4" y2="243.6" stroke="#1a1a1a" stroke-width="0.6"/>
<rect x="141.2" y="241.7" width="1.6" height="1.6" fill="#111" stroke="none" stroke-width="0.6"/>
<line x1="161" y1="242.5" x2="165.8" y2="242.5" stroke="#1a1a1a" stroke-width="0.75"/>
<line x1="161" y1="241.4" x2="161" y2="243.6" stroke="#1a1a1a" stroke-width="0.6"/>
<line x1="165.8" y1="241.4" x2="165.8" y2="243.6" stroke="#1a1a1a" stroke-width="0.6"/>
<rect x="162.6" y="241.7" width="1.6" height="1.6" fill="#111" stroke="none" stroke-width="0.6"/>
<line x1="166.2" y1="242.5" x2="171" y2="242.5" stroke="#1a1a1a" stroke-width="0.75"/>
<line x1="166.2" y1="241.4" x2="166.2" y2="243.6" stroke="#1a1a1a" stroke-width="0.6"/>
<line x1="171" y1="241.4" x2="171" y2="243.6" stroke="#1a1a1a" stroke-width="0.6"/>
<rect x="167.8" y="241.7" width="1.6" height="1.6" fill="#111" stroke="none" stroke-width="0.6"/>
<rect x="74.6" y="257.6" width="6.4" height="10.4" fill="#00ff00" stroke="#808080" stroke-width="0.45"/>
<rect x="81" y="257.6" width="7" height="10.4" fill="#ff0000" stroke="#808080" stroke-width="0.45"/>
<rect x="88" y="257.6" width="12" height="10.4" fill="#ffff00" stroke="#808080" stroke-width="0.45"/>
<rect x="100" y="257.6" width="8.4" height="10.4" fill="#00a2ff" stroke="#808080" stroke-width="0.45"/>
<line x1="78.6" y1="262.8" x2="83.4" y2="262.8" stroke="#1a1a1a" stroke-width="0.75"/>
<line x1="78.6" y1="261.7" x2="78.6" y2="263.9" stroke="#1a1a1a" stroke-width="0.6"/>
<line x1="83.4" y1="261.7" x2="83.4" y2="263.9" stroke="#1a1a1a" stroke-width="0.6"/>
<rect x="80.2" y="262" width="1.6" height="1.6" fill="#111" stroke="none" stroke-width="0.6"/>
<line x1="85.6" y1="262.8" x2="90.4" y2="262.8" stroke="#1a1a1a" stroke-width="0.75"/>
<line x1="85.6" y1="261.7" x2="85.6" y2="263.9" stroke="#1a1a1a" stroke-width="0.6"/>
<line x1="90.4" y1="261.7" x2="90.4" y2="263.9" stroke="#1a1a1a" stroke-width="0.6"/>
<rect x="87.2" y="262" width="1.6" height="1.6" fill="#111" stroke="none" stroke-width="0.6"/>
<line x1="97.6" y1="262.8" x2="102.4" y2="262.8" stroke="#1a1a1a" stroke-width="0.75"/>
<line x1="97.6" y1="261.7" x2="97.6" y2="263.9" stroke="#1a1a1a" stroke-width="0.6"/>
<line x1="102.4" y1="261.7" x2="102.4" y2="263.9" stroke="#1a1a1a" stroke-width="0.6"/>
<rect x="99.2" y="262" width="1.6" height="1.6" fill="#111" stroke="none" stroke-width="0.6"/>
<line x1="106" y1="262.8" x2="110.8" y2="262.8" stroke="#1a1a1a" stroke-width="0.75"/>
<line x1="106" y1="261.7" x2="106" y2="263.9" stroke="#1a1a1a" stroke-width="0.6"/>
<line x1="110.8" y1="261.7" x2="110.8" y2="263.9" stroke="#1a1a1a" stroke-width="0.6"/>
<rect x="107.6" y="262" width="1.6" height="1.6" fill="#111" stroke="none" stroke-width="0.6"/>
<line x1="74.6" y1="169.5" x2="74.6" y2="273" stroke="#666" stroke-width="0.8"/>
<line x1="74.6" y1="273" x2="193" y2="273" stroke="#666" stroke-width="0.8"/>
<line x1="73.6" y1="190.9" x2="75.6" y2="190.9" stroke="#555" stroke-width="0.7"/>
<line x1="73.6" y1="211.45" x2="75.6" y2="211.45" stroke="#555" stroke-width="0.7"/>
<line x1="73.6" y1="232.2" x2="75.6" y2="232.2" stroke="#555" stroke-width="0.7"/>
<line x1="73.6" y1="252.6" x2="75.6" y2="252.6" stroke="#555" stroke-width="0.7"/>
<line x1="73.6" y1="170" x2="75.6" y2="170" stroke="#555" stroke-width="0.7"/>
<text x="73" y="184.9" font-size="12.6" text-anchor="end" textLength="10.2" lengthAdjust="spacingAndGlyphs" fill="#3a3a3a" stroke="#3a3a3a" stroke-width="0.35">20</text>
<text x="73" y="205.55" font-size="12.6" text-anchor="end" textLength="10.2" lengthAdjust="spacingAndGlyphs" fill="#3a3a3a" stroke="#3a3a3a" stroke-width="0.35">15</text>
<text x="73" y="226" font-size="12.6" text-anchor="end" textLength="10.2" lengthAdjust="spacingAndGlyphs" fill="#3a3a3a" stroke="#3a3a3a" stroke-width="0.35">10</text>
<text x="73" y="246.8" font-size="12.6" text-anchor="end" textLength="5.3" lengthAdjust="spacingAndGlyphs" fill="#3a3a3a" stroke="#3a3a3a" stroke-width="0.35">5</text>
<text x="73" y="267.1" font-size="12.6" text-anchor="end" textLength="5.3" lengthAdjust="spacingAndGlyphs" fill="#3a3a3a" stroke="#3a3a3a" stroke-width="0.35">0</text>
<text x="74.6" y="287" font-size="12.4" text-anchor="middle" textLength="4.8" lengthAdjust="spacingAndGlyphs" fill="#3a3a3a" stroke="#3a3a3a" stroke-width="0.35">0</text>
<line x1="74.6" y1="273" x2="74.6" y2="275.4" stroke="#555" stroke-width="0.7"/>
<text x="91.91" y="287" font-size="12.4" text-anchor="middle" textLength="10.1" lengthAdjust="spacingAndGlyphs" fill="#3a3a3a" stroke="#3a3a3a" stroke-width="0.35">30</text>
<line x1="91.91" y1="273" x2="91.91" y2="275.4" stroke="#555" stroke-width="0.7"/>
<text x="109.22" y="287" font-size="12.4" text-anchor="middle" textLength="10.1" lengthAdjust="spacingAndGlyphs" fill="#3a3a3a" stroke="#3a3a3a" stroke-width="0.35">60</text>
<line x1="109.22" y1="273" x2="109.22" y2="275.4" stroke="#555" stroke-width="0.7"/>
<text x="126.53" y="287" font-size="12.4" text-anchor="middle" textLength="10.1" lengthAdjust="spacingAndGlyphs" fill="#3a3a3a" stroke="#3a3a3a" stroke-width="0.35">90</text>
<line x1="126.53" y1="273" x2="126.53" y2="275.4" stroke="#555" stroke-width="0.7"/>
<text x="143.84" y="287" font-size="12.4" text-anchor="middle" textLength="15.4" lengthAdjust="spacingAndGlyphs" fill="#3a3a3a" stroke="#3a3a3a" stroke-width="0.35">120</text>
<line x1="143.84" y1="273" x2="143.84" y2="275.4" stroke="#555" stroke-width="0.7"/>
<text x="161.15" y="287" font-size="12.4" text-anchor="middle" textLength="15.4" lengthAdjust="spacingAndGlyphs" fill="#3a3a3a" stroke="#3a3a3a" stroke-width="0.35">150</text>
<line x1="161.15" y1="273" x2="161.15" y2="275.4" stroke="#555" stroke-width="0.7"/>
<line x1="74.6" y1="273" x2="74.6" y2="274.4" stroke="#888" stroke-width="0.5"/>
<line x1="78.06" y1="273" x2="78.06" y2="274.4" stroke="#888" stroke-width="0.5"/>
<line x1="81.52" y1="273" x2="81.52" y2="274.4" stroke="#888" stroke-width="0.5"/>
<line x1="84.99" y1="273" x2="84.99" y2="274.4" stroke="#888" stroke-width="0.5"/>
<line x1="88.45" y1="273" x2="88.45" y2="274.4" stroke="#888" stroke-width="0.5"/>
<line x1="91.91" y1="273" x2="91.91" y2="274.4" stroke="#888" stroke-width="0.5"/>
<line x1="95.37" y1="273" x2="95.37" y2="274.4" stroke="#888" stroke-width="0.5"/>
<line x1="98.83" y1="273" x2="98.83" y2="274.4" stroke="#888" stroke-width="0.5"/>
<line x1="102.3" y1="273" x2="102.3" y2="274.4" stroke="#888" stroke-width="0.5"/>
<line x1="105.76" y1="273" x2="105.76" y2="274.4" stroke="#888" stroke-width="0.5"/>
<line x1="109.22" y1="273" x2="109.22" y2="274.4" stroke="#888" stroke-width="0.5"/>
<line x1="112.68" y1="273" x2="112.68" y2="274.4" stroke="#888" stroke-width="0.5"/>
<line x1="116.14" y1="273" x2="116.14" y2="274.4" stroke="#888" stroke-width="0.5"/>
<line x1="119.61" y1="273" x2="119.61" y2="274.4" stroke="#888" stroke-width="0.5"/>
<line x1="123.07" y1="273" x2="123.07" y2="274.4" stroke="#888" stroke-width="0.5"/>
<line x1="126.53" y1="273" x2="126.53" y2="274.4" stroke="#888" stroke-width="0.5"/>
<line x1="129.99" y1="273" x2="129.99" y2="274.4" stroke="#888" stroke-width="0.5"/>
<line x1="133.45" y1="273" x2="133.45" y2="274.4" stroke="#888" stroke-width="0.5"/>
<line x1="136.92" y1="273" x2="136.92" y2="274.4" stroke="#888" stroke-width="0.5"/>
<line x1="140.38" y1="273" x2="140.38" y2="274.4" stroke="#888" stroke-width="0.5"/>
<line x1="143.84" y1="273" x2="143.84" y2="274.4" stroke="#888" stroke-width="0.5"/>
<line x1="147.3" y1="273" x2="147.3" y2="274.4" stroke="#888" stroke-width="0.5"/>
<line x1="150.76" y1="273" x2="150.76" y2="274.4" stroke="#888" stroke-width="0.5"/>
<line x1="154.23" y1="273" x2="154.23" y2="274.4" stroke="#888" stroke-width="0.5"/>
<line x1="157.69" y1="273" x2="157.69" y2="274.4" stroke="#888" stroke-width="0.5"/>
<line x1="161.15" y1="273" x2="161.15" y2="274.4" stroke="#888" stroke-width="0.5"/>
<line x1="164.61" y1="273" x2="164.61" y2="274.4" stroke="#888" stroke-width="0.5"/>
<line x1="168.07" y1="273" x2="168.07" y2="274.4" stroke="#888" stroke-width="0.5"/>
<line x1="171.54" y1="273" x2="171.54" y2="274.4" stroke="#888" stroke-width="0.5"/>
<line x1="175" y1="273" x2="175" y2="274.4" stroke="#888" stroke-width="0.5"/>
<line x1="178.46" y1="273" x2="178.46" y2="274.4" stroke="#888" stroke-width="0.5"/>
<line x1="181.92" y1="273" x2="181.92" y2="274.4" stroke="#888" stroke-width="0.5"/>
<line x1="185.38" y1="273" x2="185.38" y2="274.4" stroke="#888" stroke-width="0.5"/>
<line x1="188.85" y1="273" x2="188.85" y2="274.4" stroke="#888" stroke-width="0.5"/>
<line x1="192.31" y1="273" x2="192.31" y2="274.4" stroke="#888" stroke-width="0.5"/>
<rect x="170.1" y="241.1" width="23" height="31.1" fill="#fff" stroke="#c4c4c4" stroke-width="0.6"/>
<rect x="170.8" y="242.4" width="10.8" height="7.2" fill="#00a2ff" stroke="#8a8a8a" stroke-width="0.5"/>
<text x="184.5" y="248.5" font-size="7.5" text-anchor="start" textLength="7.6" lengthAdjust="spacingAndGlyphs" fill="#3c3c3c" stroke="#3c3c3c" stroke-width="0.15">CAD</text>
<rect x="170.8" y="250.5" width="10.8" height="6.8" fill="#ffff00" stroke="#8a8a8a" stroke-width="0.5"/>
<text x="184.5" y="256.2" font-size="7.5" text-anchor="start" textLength="7.6" lengthAdjust="spacingAndGlyphs" fill="#3c3c3c" stroke="#3c3c3c" stroke-width="0.15">PUT</text>
<rect x="170.8" y="258" width="10.8" height="6.7" fill="#ff0000" stroke="#8a8a8a" stroke-width="0.5"/>
<text x="184.5" y="263.6" font-size="7.5" text-anchor="start" textLength="7.6" lengthAdjust="spacingAndGlyphs" fill="#3c3c3c" stroke="#3c3c3c" stroke-width="0.15">TYR</text>
<rect x="170.8" y="265.4" width="10.8" height="6.4" fill="#00ff00" stroke="#8a8a8a" stroke-width="0.5"/>
<text x="184.5" y="270.7" font-size="7.5" text-anchor="start" textLength="7.6" lengthAdjust="spacingAndGlyphs" fill="#3c3c3c" stroke="#3c3c3c" stroke-width="0.15">HIM</text>
<text transform="translate(54.1,283.2) rotate(-90)" font-size="12" font-weight="bold" textLength="95.4" lengthAdjust="spacingAndGlyphs" fill="#161616" stroke="#161616" stroke-width="0.15">NaCL concentration</text>
<path d="M46.27,179.48 Q49.95,184.57 53.63,179.48" fill="none" stroke="#161616" stroke-width="1.35" stroke-linecap="round"/>
<path d="M46.27,164.02 Q49.95,159.73 53.63,164.02" fill="none" stroke="#161616" stroke-width="1.35" stroke-linecap="round"/>
<text transform="translate(54.5,176.9) rotate(-90)" font-size="12.5" font-weight="bold" textLength="11" lengthAdjust="spacingAndGlyphs" fill="#161616" stroke="#161616" stroke-width="0.15">%</text>
<text x="82.4" y="306.9" font-size="11" text-anchor="start" font-weight="bold" textLength="81.4" lengthAdjust="spacingAndGlyphs" fill="#161616" stroke="#161616" stroke-width="0.15">Degradation Rate</text>
<path d="M168.62,299.18 Q164.33,302.5 168.62,305.82" fill="none" stroke="#161616" stroke-width="1.35" stroke-linecap="round"/>
<text x="172" y="307.4" font-size="13.5" text-anchor="start" font-weight="bold" textLength="10.4" lengthAdjust="spacingAndGlyphs" fill="#161616" stroke="#161616" stroke-width="0.2">%</text>
<path d="M185.68,299.18 Q189.97,302.5 185.68,305.82" fill="none" stroke="#161616" stroke-width="1.35" stroke-linecap="round"/>
<line x1="229.6" y1="189" x2="348" y2="189" stroke="#ececec" stroke-width="0.6"/>
<line x1="229.6" y1="210" x2="348" y2="210" stroke="#ececec" stroke-width="0.6"/>
<line x1="229.6" y1="231.1" x2="348" y2="231.1" stroke="#ececec" stroke-width="0.6"/>
<line x1="229.6" y1="252.7" x2="348" y2="252.7" stroke="#ececec" stroke-width="0.6"/>
<rect x="229.6" y="173" width="6.8" height="10.6" fill="#ff8000" stroke="#808080" stroke-width="0.45"/>
<line x1="234" y1="178.3" x2="238.8" y2="178.3" stroke="#1a1a1a" stroke-width="0.75"/>
<line x1="234" y1="177.2" x2="234" y2="179.4" stroke="#1a1a1a" stroke-width="0.6"/>
<line x1="238.8" y1="177.2" x2="238.8" y2="179.4" stroke="#1a1a1a" stroke-width="0.6"/>
<rect x="235.6" y="177.5" width="1.6" height="1.6" fill="#111" stroke="none" stroke-width="0.6"/>
<rect x="229.6" y="194.4" width="8" height="10.6" fill="#a000cc" stroke="#808080" stroke-width="0.45"/>
<rect x="237.6" y="194.4" width="38.8" height="10.6" fill="#33ffff" stroke="#808080" stroke-width="0.45"/>
<rect x="276.4" y="194.4" width="16" height="10.6" fill="#ff8000" stroke="#808080" stroke-width="0.45"/>
<rect x="292.4" y="194.4" width="7" height="10.6" fill="#00dd00" stroke="#808080" stroke-width="0.45"/>
<line x1="235.2" y1="199.7" x2="240" y2="199.7" stroke="#1a1a1a" stroke-width="0.75"/>
<line x1="235.2" y1="198.6" x2="235.2" y2="200.8" stroke="#1a1a1a" stroke-width="0.6"/>
<line x1="240" y1="198.6" x2="240" y2="200.8" stroke="#1a1a1a" stroke-width="0.6"/>
<rect x="236.8" y="198.9" width="1.6" height="1.6" fill="#111" stroke="none" stroke-width="0.6"/>
<line x1="274" y1="199.7" x2="278.8" y2="199.7" stroke="#1a1a1a" stroke-width="0.75"/>
<line x1="274" y1="198.6" x2="274" y2="200.8" stroke="#1a1a1a" stroke-width="0.6"/>
<line x1="278.8" y1="198.6" x2="278.8" y2="200.8" stroke="#1a1a1a" stroke-width="0.6"/>
<rect x="275.6" y="198.9" width="1.6" height="1.6" fill="#111" stroke="none" stroke-width="0.6"/>
<line x1="290" y1="199.7" x2="294.8" y2="199.7" stroke="#1a1a1a" stroke-width="0.75"/>
<line x1="290" y1="198.6" x2="290" y2="200.8" stroke="#1a1a1a" stroke-width="0.6"/>
<line x1="294.8" y1="198.6" x2="294.8" y2="200.8" stroke="#1a1a1a" stroke-width="0.6"/>
<rect x="291.6" y="198.9" width="1.6" height="1.6" fill="#111" stroke="none" stroke-width="0.6"/>
<line x1="297" y1="199.7" x2="301.8" y2="199.7" stroke="#1a1a1a" stroke-width="0.75"/>
<line x1="297" y1="198.6" x2="297" y2="200.8" stroke="#1a1a1a" stroke-width="0.6"/>
<line x1="301.8" y1="198.6" x2="301.8" y2="200.8" stroke="#1a1a1a" stroke-width="0.6"/>
<rect x="298.6" y="198.9" width="1.6" height="1.6" fill="#111" stroke="none" stroke-width="0.6"/>
<rect x="229.6" y="215" width="10.2" height="10.6" fill="#a000cc" stroke="#808080" stroke-width="0.45"/>
<rect x="239.8" y="215" width="74.2" height="10.6" fill="#33ffff" stroke="#808080" stroke-width="0.45"/>
<rect x="314" y="215" width="17.6" height="10.6" fill="#ff8000" stroke="#808080" stroke-width="0.45"/>
<rect x="331.6" y="215" width="7.8" height="10.6" fill="#00dd00" stroke="#808080" stroke-width="0.45"/>
<line x1="237.4" y1="220.3" x2="242.2" y2="220.3" stroke="#1a1a1a" stroke-width="0.75"/>
<line x1="237.4" y1="219.2" x2="237.4" y2="221.4" stroke="#1a1a1a" stroke-width="0.6"/>
<line x1="242.2" y1="219.2" x2="242.2" y2="221.4" stroke="#1a1a1a" stroke-width="0.6"/>
<rect x="239" y="219.5" width="1.6" height="1.6" fill="#111" stroke="none" stroke-width="0.6"/>
<line x1="311.6" y1="220.3" x2="316.4" y2="220.3" stroke="#1a1a1a" stroke-width="0.75"/>
<line x1="311.6" y1="219.2" x2="311.6" y2="221.4" stroke="#1a1a1a" stroke-width="0.6"/>
<line x1="316.4" y1="219.2" x2="316.4" y2="221.4" stroke="#1a1a1a" stroke-width="0.6"/>
<rect x="313.2" y="219.5" width="1.6" height="1.6" fill="#111" stroke="none" stroke-width="0.6"/>
<line x1="329.2" y1="220.3" x2="334" y2="220.3" stroke="#1a1a1a" stroke-width="0.75"/>
<line x1="329.2" y1="219.2" x2="329.2" y2="221.4" stroke="#1a1a1a" stroke-width="0.6"/>
<line x1="334" y1="219.2" x2="334" y2="221.4" stroke="#1a1a1a" stroke-width="0.6"/>
<rect x="330.8" y="219.5" width="1.6" height="1.6" fill="#111" stroke="none" stroke-width="0.6"/>
<line x1="337" y1="220.3" x2="341.8" y2="220.3" stroke="#1a1a1a" stroke-width="0.75"/>
<line x1="337" y1="219.2" x2="337" y2="221.4" stroke="#1a1a1a" stroke-width="0.6"/>
<line x1="341.8" y1="219.2" x2="341.8" y2="221.4" stroke="#1a1a1a" stroke-width="0.6"/>
<rect x="338.6" y="219.5" width="1.6" height="1.6" fill="#111" stroke="none" stroke-width="0.6"/>
<rect x="229.6" y="236.6" width="8.8" height="10.8" fill="#a000cc" stroke="#808080" stroke-width="0.45"/>
<rect x="238.4" y="236.6" width="67.6" height="10.8" fill="#33ffff" stroke="#808080" stroke-width="0.45"/>
<rect x="306" y="236.6" width="16" height="10.8" fill="#ff8000" stroke="#808080" stroke-width="0.45"/>
<rect x="322" y="236.6" width="6.6" height="10.8" fill="#00dd00" stroke="#808080" stroke-width="0.45"/>
<line x1="236" y1="242" x2="240.8" y2="242" stroke="#1a1a1a" stroke-width="0.75"/>
<line x1="236" y1="240.9" x2="236" y2="243.1" stroke="#1a1a1a" stroke-width="0.6"/>
<line x1="240.8" y1="240.9" x2="240.8" y2="243.1" stroke="#1a1a1a" stroke-width="0.6"/>
<rect x="237.6" y="241.2" width="1.6" height="1.6" fill="#111" stroke="none" stroke-width="0.6"/>
<line x1="303.6" y1="242" x2="308.4" y2="242" stroke="#1a1a1a" stroke-width="0.75"/>
<line x1="303.6" y1="240.9" x2="303.6" y2="243.1" stroke="#1a1a1a" stroke-width="0.6"/>
<line x1="308.4" y1="240.9" x2="308.4" y2="243.1" stroke="#1a1a1a" stroke-width="0.6"/>
<rect x="305.2" y="241.2" width="1.6" height="1.6" fill="#111" stroke="none" stroke-width="0.6"/>
<line x1="319.6" y1="242" x2="324.4" y2="242" stroke="#1a1a1a" stroke-width="0.75"/>
<line x1="319.6" y1="240.9" x2="319.6" y2="243.1" stroke="#1a1a1a" stroke-width="0.6"/>
<line x1="324.4" y1="240.9" x2="324.4" y2="243.1" stroke="#1a1a1a" stroke-width="0.6"/>
<rect x="321.2" y="241.2" width="1.6" height="1.6" fill="#111" stroke="none" stroke-width="0.6"/>
<line x1="326.2" y1="242" x2="331" y2="242" stroke="#1a1a1a" stroke-width="0.75"/>
<line x1="326.2" y1="240.9" x2="326.2" y2="243.1" stroke="#1a1a1a" stroke-width="0.6"/>
<line x1="331" y1="240.9" x2="331" y2="243.1" stroke="#1a1a1a" stroke-width="0.6"/>
<rect x="327.8" y="241.2" width="1.6" height="1.6" fill="#111" stroke="none" stroke-width="0.6"/>
<rect x="229.6" y="258" width="5.4" height="10.6" fill="#a000cc" stroke="#808080" stroke-width="0.45"/>
<rect x="235" y="258" width="30.6" height="10.6" fill="#33ffff" stroke="#808080" stroke-width="0.45"/>
<rect x="265.6" y="258" width="8.4" height="10.6" fill="#ff8000" stroke="#808080" stroke-width="0.45"/>
<rect x="274" y="258" width="5" height="10.6" fill="#00dd00" stroke="#808080" stroke-width="0.45"/>
<line x1="232.6" y1="263.3" x2="237.4" y2="263.3" stroke="#1a1a1a" stroke-width="0.75"/>
<line x1="232.6" y1="262.2" x2="232.6" y2="264.4" stroke="#1a1a1a" stroke-width="0.6"/>
<line x1="237.4" y1="262.2" x2="237.4" y2="264.4" stroke="#1a1a1a" stroke-width="0.6"/>
<rect x="234.2" y="262.5" width="1.6" height="1.6" fill="#111" stroke="none" stroke-width="0.6"/>
<line x1="263.2" y1="263.3" x2="268" y2="263.3" stroke="#1a1a1a" stroke-width="0.75"/>
<line x1="263.2" y1="262.2" x2="263.2" y2="264.4" stroke="#1a1a1a" stroke-width="0.6"/>
<line x1="268" y1="262.2" x2="268" y2="264.4" stroke="#1a1a1a" stroke-width="0.6"/>
<rect x="264.8" y="262.5" width="1.6" height="1.6" fill="#111" stroke="none" stroke-width="0.6"/>
<line x1="271.6" y1="263.3" x2="276.4" y2="263.3" stroke="#1a1a1a" stroke-width="0.75"/>
<line x1="271.6" y1="262.2" x2="271.6" y2="264.4" stroke="#1a1a1a" stroke-width="0.6"/>
<line x1="276.4" y1="262.2" x2="276.4" y2="264.4" stroke="#1a1a1a" stroke-width="0.6"/>
<rect x="273.2" y="262.5" width="1.6" height="1.6" fill="#111" stroke="none" stroke-width="0.6"/>
<line x1="276.6" y1="263.3" x2="281.4" y2="263.3" stroke="#1a1a1a" stroke-width="0.75"/>
<line x1="276.6" y1="262.2" x2="276.6" y2="264.4" stroke="#1a1a1a" stroke-width="0.6"/>
<line x1="281.4" y1="262.2" x2="281.4" y2="264.4" stroke="#1a1a1a" stroke-width="0.6"/>
<rect x="278.2" y="262.5" width="1.6" height="1.6" fill="#111" stroke="none" stroke-width="0.6"/>
<line x1="229.6" y1="167.6" x2="229.6" y2="273.5" stroke="#666" stroke-width="0.8"/>
<line x1="229.6" y1="273.5" x2="348" y2="273.5" stroke="#666" stroke-width="0.8"/>
<line x1="228.6" y1="189" x2="230.6" y2="189" stroke="#555" stroke-width="0.7"/>
<line x1="228.6" y1="210" x2="230.6" y2="210" stroke="#555" stroke-width="0.7"/>
<line x1="228.6" y1="231.1" x2="230.6" y2="231.1" stroke="#555" stroke-width="0.7"/>
<line x1="228.6" y1="252.7" x2="230.6" y2="252.7" stroke="#555" stroke-width="0.7"/>
<line x1="228.6" y1="168.1" x2="230.6" y2="168.1" stroke="#555" stroke-width="0.7"/>
<text x="227.6" y="182.6" font-size="12.6" text-anchor="end" textLength="10.2" lengthAdjust="spacingAndGlyphs" fill="#3a3a3a" stroke="#3a3a3a" stroke-width="0.35">45</text>
<text x="227.6" y="204" font-size="12.6" text-anchor="end" textLength="10.2" lengthAdjust="spacingAndGlyphs" fill="#3a3a3a" stroke="#3a3a3a" stroke-width="0.35">40</text>
<text x="227.6" y="224.6" font-size="12.6" text-anchor="end" textLength="10.2" lengthAdjust="spacingAndGlyphs" fill="#3a3a3a" stroke="#3a3a3a" stroke-width="0.35">37</text>
<text x="227.6" y="246.3" font-size="12.6" text-anchor="end" textLength="10.2" lengthAdjust="spacingAndGlyphs" fill="#3a3a3a" stroke="#3a3a3a" stroke-width="0.35">30</text>
<text x="227.6" y="267.6" font-size="12.6" text-anchor="end" textLength="10.2" lengthAdjust="spacingAndGlyphs" fill="#3a3a3a" stroke="#3a3a3a" stroke-width="0.35">25</text>
<text x="229.6" y="288" font-size="12.4" text-anchor="middle" textLength="4.8" lengthAdjust="spacingAndGlyphs" fill="#3a3a3a" stroke="#3a3a3a" stroke-width="0.35">0</text>
<line x1="229.6" y1="273.5" x2="229.6" y2="275.9" stroke="#555" stroke-width="0.7"/>
<text x="256.09" y="288" font-size="12.4" text-anchor="middle" textLength="10.1" lengthAdjust="spacingAndGlyphs" fill="#3a3a3a" stroke="#3a3a3a" stroke-width="0.35">30</text>
<line x1="256.09" y1="273.5" x2="256.09" y2="275.9" stroke="#555" stroke-width="0.7"/>
<text x="282.58" y="288" font-size="12.4" text-anchor="middle" textLength="10.1" lengthAdjust="spacingAndGlyphs" fill="#3a3a3a" stroke="#3a3a3a" stroke-width="0.35">60</text>
<line x1="282.58" y1="273.5" x2="282.58" y2="275.9" stroke="#555" stroke-width="0.7"/>
<text x="309.07" y="288" font-size="12.4" text-anchor="middle" textLength="10.1" lengthAdjust="spacingAndGlyphs" fill="#3a3a3a" stroke="#3a3a3a" stroke-width="0.35">90</text>
<line x1="309.07" y1="273.5" x2="309.07" y2="275.9" stroke="#555" stroke-width="0.7"/>
<text x="335.56" y="288" font-size="12.4" text-anchor="middle" textLength="15.4" lengthAdjust="spacingAndGlyphs" fill="#3a3a3a" stroke="#3a3a3a" stroke-width="0.35">120</text>
<line x1="335.56" y1="273.5" x2="335.56" y2="275.9" stroke="#555" stroke-width="0.7"/>
<line x1="229.6" y1="273.5" x2="229.6" y2="274.9" stroke="#888" stroke-width="0.5"/>
<line x1="234.9" y1="273.5" x2="234.9" y2="274.9" stroke="#888" stroke-width="0.5"/>
<line x1="240.2" y1="273.5" x2="240.2" y2="274.9" stroke="#888" stroke-width="0.5"/>
<line x1="245.49" y1="273.5" x2="245.49" y2="274.9" stroke="#888" stroke-width="0.5"/>
<line x1="250.79" y1="273.5" x2="250.79" y2="274.9" stroke="#888" stroke-width="0.5"/>
<line x1="256.09" y1="273.5" x2="256.09" y2="274.9" stroke="#888" stroke-width="0.5"/>
<line x1="261.39" y1="273.5" x2="261.39" y2="274.9" stroke="#888" stroke-width="0.5"/>
<line x1="266.69" y1="273.5" x2="266.69" y2="274.9" stroke="#888" stroke-width="0.5"/>
<line x1="271.98" y1="273.5" x2="271.98" y2="274.9" stroke="#888" stroke-width="0.5"/>
<line x1="277.28" y1="273.5" x2="277.28" y2="274.9" stroke="#888" stroke-width="0.5"/>
<line x1="282.58" y1="273.5" x2="282.58" y2="274.9" stroke="#888" stroke-width="0.5"/>
<line x1="287.88" y1="273.5" x2="287.88" y2="274.9" stroke="#888" stroke-width="0.5"/>
<line x1="293.18" y1="273.5" x2="293.18" y2="274.9" stroke="#888" stroke-width="0.5"/>
<line x1="298.47" y1="273.5" x2="298.47" y2="274.9" stroke="#888" stroke-width="0.5"/>
<line x1="303.77" y1="273.5" x2="303.77" y2="274.9" stroke="#888" stroke-width="0.5"/>
<line x1="309.07" y1="273.5" x2="309.07" y2="274.9" stroke="#888" stroke-width="0.5"/>
<line x1="314.37" y1="273.5" x2="314.37" y2="274.9" stroke="#888" stroke-width="0.5"/>
<line x1="319.67" y1="273.5" x2="319.67" y2="274.9" stroke="#888" stroke-width="0.5"/>
<line x1="324.96" y1="273.5" x2="324.96" y2="274.9" stroke="#888" stroke-width="0.5"/>
<line x1="330.26" y1="273.5" x2="330.26" y2="274.9" stroke="#888" stroke-width="0.5"/>
<line x1="335.56" y1="273.5" x2="335.56" y2="274.9" stroke="#888" stroke-width="0.5"/>
<line x1="340.86" y1="273.5" x2="340.86" y2="274.9" stroke="#888" stroke-width="0.5"/>
<line x1="346.16" y1="273.5" x2="346.16" y2="274.9" stroke="#888" stroke-width="0.5"/>
<rect x="330.8" y="241.1" width="27" height="31.5" fill="#fff" stroke="#c4c4c4" stroke-width="0.6"/>
<rect x="331.9" y="242.4" width="12.7" height="6.8" fill="#00dd00" stroke="#8a8a8a" stroke-width="0.5"/>
<text x="347.5" y="248.1" font-size="7.5" text-anchor="start" textLength="9.3" lengthAdjust="spacingAndGlyphs" fill="#3c3c3c" stroke="#3c3c3c" stroke-width="0.15">CAD</text>
<rect x="331.9" y="250.1" width="12.7" height="6.8" fill="#ff8000" stroke="#8a8a8a" stroke-width="0.5"/>
<text x="347.5" y="255.8" font-size="7.5" text-anchor="start" textLength="9.3" lengthAdjust="spacingAndGlyphs" fill="#3c3c3c" stroke="#3c3c3c" stroke-width="0.15">PUT</text>
<rect x="331.9" y="257.7" width="12.7" height="7" fill="#33ffff" stroke="#8a8a8a" stroke-width="0.5"/>
<text x="347.5" y="263.6" font-size="7.5" text-anchor="start" textLength="9.3" lengthAdjust="spacingAndGlyphs" fill="#3c3c3c" stroke="#3c3c3c" stroke-width="0.15">TYR</text>
<rect x="331.9" y="265.8" width="12.7" height="6.4" fill="#a000cc" stroke="#8a8a8a" stroke-width="0.5"/>
<text x="347.5" y="271.1" font-size="7.5" text-anchor="start" textLength="9.3" lengthAdjust="spacingAndGlyphs" fill="#3c3c3c" stroke="#3c3c3c" stroke-width="0.15">HIM</text>
<text transform="translate(210.4,264) rotate(-90)" font-size="12" font-weight="bold" textLength="60.4" lengthAdjust="spacingAndGlyphs" fill="#161616" stroke="#161616" stroke-width="0.15">Temperature</text>
<path d="M202.28,195.88 Q206.1,199.77 209.92,195.88" fill="none" stroke="#161616" stroke-width="1.35" stroke-linecap="round"/>
<path d="M202.28,179.12 Q206.1,175.43 209.92,179.12" fill="none" stroke="#161616" stroke-width="1.35" stroke-linecap="round"/>
<circle cx="204.7" cy="191.65" r="1.6" fill="none" stroke="#161616" stroke-width="0.9"/>
<text transform="translate(210.2,190) rotate(-90)" font-size="13" font-weight="bold" textLength="8.2" lengthAdjust="spacingAndGlyphs" fill="#161616" stroke="#161616" stroke-width="0.15">C</text>
<text x="235.3" y="307.8" font-size="11" text-anchor="start" font-weight="bold" textLength="81.4" lengthAdjust="spacingAndGlyphs" fill="#161616" stroke="#161616" stroke-width="0.15">Degradation Rate</text>
<path d="M321.53,300.08 Q317.23,303.4 321.53,306.73" fill="none" stroke="#161616" stroke-width="1.35" stroke-linecap="round"/>
<text x="324.9" y="308.3" font-size="13.5" text-anchor="start" font-weight="bold" textLength="10.4" lengthAdjust="spacingAndGlyphs" fill="#161616" stroke="#161616" stroke-width="0.2">%</text>
<path d="M338.57,300.08 Q342.87,303.4 338.57,306.73" fill="none" stroke="#161616" stroke-width="1.35" stroke-linecap="round"/>
<line x1="392.4" y1="187" x2="523" y2="187" stroke="#ececec" stroke-width="0.6"/>
<line x1="392.4" y1="208.3" x2="523" y2="208.3" stroke="#ececec" stroke-width="0.6"/>
<line x1="392.4" y1="229.8" x2="523" y2="229.8" stroke="#ececec" stroke-width="0.6"/>
<line x1="392.4" y1="251" x2="523" y2="251" stroke="#ececec" stroke-width="0.6"/>
<rect x="392.4" y="171" width="5" height="10.6" fill="#0000ff" stroke="#808080" stroke-width="0.45"/>
<line x1="395" y1="176.3" x2="399.8" y2="176.3" stroke="#1a1a1a" stroke-width="0.75"/>
<line x1="395" y1="175.2" x2="395" y2="177.4" stroke="#1a1a1a" stroke-width="0.6"/>
<line x1="399.8" y1="175.2" x2="399.8" y2="177.4" stroke="#1a1a1a" stroke-width="0.6"/>
<rect x="396.6" y="175.5" width="1.6" height="1.6" fill="#111" stroke="none" stroke-width="0.6"/>
<rect x="392.4" y="192.4" width="10.6" height="10.6" fill="#ffff00" stroke="#808080" stroke-width="0.45"/>
<rect x="403" y="192.4" width="73.5" height="10.6" fill="#ff00ff" stroke="#808080" stroke-width="0.45"/>
<rect x="476.5" y="192.4" width="18.5" height="10.6" fill="#0000ff" stroke="#808080" stroke-width="0.45"/>
<rect x="495" y="192.4" width="9" height="10.6" fill="#00dd00" stroke="#808080" stroke-width="0.45"/>
<line x1="400.6" y1="197.7" x2="405.4" y2="197.7" stroke="#1a1a1a" stroke-width="0.75"/>
<line x1="400.6" y1="196.6" x2="400.6" y2="198.8" stroke="#1a1a1a" stroke-width="0.6"/>
<line x1="405.4" y1="196.6" x2="405.4" y2="198.8" stroke="#1a1a1a" stroke-width="0.6"/>
<rect x="402.2" y="196.9" width="1.6" height="1.6" fill="#111" stroke="none" stroke-width="0.6"/>
<line x1="474.1" y1="197.7" x2="478.9" y2="197.7" stroke="#1a1a1a" stroke-width="0.75"/>
<line x1="474.1" y1="196.6" x2="474.1" y2="198.8" stroke="#1a1a1a" stroke-width="0.6"/>
<line x1="478.9" y1="196.6" x2="478.9" y2="198.8" stroke="#1a1a1a" stroke-width="0.6"/>
<rect x="475.7" y="196.9" width="1.6" height="1.6" fill="#111" stroke="none" stroke-width="0.6"/>
<line x1="492.6" y1="197.7" x2="497.4" y2="197.7" stroke="#1a1a1a" stroke-width="0.75"/>
<line x1="492.6" y1="196.6" x2="492.6" y2="198.8" stroke="#1a1a1a" stroke-width="0.6"/>
<line x1="497.4" y1="196.6" x2="497.4" y2="198.8" stroke="#1a1a1a" stroke-width="0.6"/>
<rect x="494.2" y="196.9" width="1.6" height="1.6" fill="#111" stroke="none" stroke-width="0.6"/>
<line x1="501.6" y1="197.7" x2="506.4" y2="197.7" stroke="#1a1a1a" stroke-width="0.75"/>
<line x1="501.6" y1="196.6" x2="501.6" y2="198.8" stroke="#1a1a1a" stroke-width="0.6"/>
<line x1="506.4" y1="196.6" x2="506.4" y2="198.8" stroke="#1a1a1a" stroke-width="0.6"/>
<rect x="503.2" y="196.9" width="1.6" height="1.6" fill="#111" stroke="none" stroke-width="0.6"/>
<rect x="392.4" y="213.6" width="11.6" height="10.8" fill="#ffff00" stroke="#808080" stroke-width="0.45"/>
<rect x="404" y="213.6" width="72.2" height="10.8" fill="#ff00ff" stroke="#808080" stroke-width="0.45"/>
<rect x="476.2" y="213.6" width="21.8" height="10.8" fill="#0000ff" stroke="#808080" stroke-width="0.45"/>
<rect x="498" y="213.6" width="10" height="10.8" fill="#00dd00" stroke="#808080" stroke-width="0.45"/>
<line x1="401.6" y1="219" x2="406.4" y2="219" stroke="#1a1a1a" stroke-width="0.75"/>
<line x1="401.6" y1="217.9" x2="401.6" y2="220.1" stroke="#1a1a1a" stroke-width="0.6"/>
<line x1="406.4" y1="217.9" x2="406.4" y2="220.1" stroke="#1a1a1a" stroke-width="0.6"/>
<rect x="403.2" y="218.2" width="1.6" height="1.6" fill="#111" stroke="none" stroke-width="0.6"/>
<line x1="473.8" y1="219" x2="478.6" y2="219" stroke="#1a1a1a" stroke-width="0.75"/>
<line x1="473.8" y1="217.9" x2="473.8" y2="220.1" stroke="#1a1a1a" stroke-width="0.6"/>
<line x1="478.6" y1="217.9" x2="478.6" y2="220.1" stroke="#1a1a1a" stroke-width="0.6"/>
<rect x="475.4" y="218.2" width="1.6" height="1.6" fill="#111" stroke="none" stroke-width="0.6"/>
<line x1="495.6" y1="219" x2="500.4" y2="219" stroke="#1a1a1a" stroke-width="0.75"/>
<line x1="495.6" y1="217.9" x2="495.6" y2="220.1" stroke="#1a1a1a" stroke-width="0.6"/>
<line x1="500.4" y1="217.9" x2="500.4" y2="220.1" stroke="#1a1a1a" stroke-width="0.6"/>
<rect x="497.2" y="218.2" width="1.6" height="1.6" fill="#111" stroke="none" stroke-width="0.6"/>
<line x1="505.6" y1="219" x2="510.4" y2="219" stroke="#1a1a1a" stroke-width="0.75"/>
<line x1="505.6" y1="217.9" x2="505.6" y2="220.1" stroke="#1a1a1a" stroke-width="0.6"/>
<line x1="510.4" y1="217.9" x2="510.4" y2="220.1" stroke="#1a1a1a" stroke-width="0.6"/>
<rect x="507.2" y="218.2" width="1.6" height="1.6" fill="#111" stroke="none" stroke-width="0.6"/>
<rect x="392.4" y="235.2" width="9.6" height="10.8" fill="#ffff00" stroke="#808080" stroke-width="0.45"/>
<rect x="402" y="235.2" width="19.4" height="10.8" fill="#ff00ff" stroke="#808080" stroke-width="0.45"/>
<rect x="421.4" y="235.2" width="13.6" height="10.8" fill="#0000ff" stroke="#808080" stroke-width="0.45"/>
<rect x="435" y="235.2" width="7.4" height="10.8" fill="#00dd00" stroke="#808080" stroke-width="0.45"/>
<line x1="399.6" y1="240.6" x2="404.4" y2="240.6" stroke="#1a1a1a" stroke-width="0.75"/>
<line x1="399.6" y1="239.5" x2="399.6" y2="241.7" stroke="#1a1a1a" stroke-width="0.6"/>
<line x1="404.4" y1="239.5" x2="404.4" y2="241.7" stroke="#1a1a1a" stroke-width="0.6"/>
<rect x="401.2" y="239.8" width="1.6" height="1.6" fill="#111" stroke="none" stroke-width="0.6"/>
<line x1="419" y1="240.6" x2="423.8" y2="240.6" stroke="#1a1a1a" stroke-width="0.75"/>
<line x1="419" y1="239.5" x2="419" y2="241.7" stroke="#1a1a1a" stroke-width="0.6"/>
<line x1="423.8" y1="239.5" x2="423.8" y2="241.7" stroke="#1a1a1a" stroke-width="0.6"/>
<rect x="420.6" y="239.8" width="1.6" height="1.6" fill="#111" stroke="none" stroke-width="0.6"/>
<line x1="432.6" y1="240.6" x2="437.4" y2="240.6" stroke="#1a1a1a" stroke-width="0.75"/>
<line x1="432.6" y1="239.5" x2="432.6" y2="241.7" stroke="#1a1a1a" stroke-width="0.6"/>
<line x1="437.4" y1="239.5" x2="437.4" y2="241.7" stroke="#1a1a1a" stroke-width="0.6"/>
<rect x="434.2" y="239.8" width="1.6" height="1.6" fill="#111" stroke="none" stroke-width="0.6"/>
<line x1="440" y1="240.6" x2="444.8" y2="240.6" stroke="#1a1a1a" stroke-width="0.75"/>
<line x1="440" y1="239.5" x2="440" y2="241.7" stroke="#1a1a1a" stroke-width="0.6"/>
<line x1="444.8" y1="239.5" x2="444.8" y2="241.7" stroke="#1a1a1a" stroke-width="0.6"/>
<rect x="441.6" y="239.8" width="1.6" height="1.6" fill="#111" stroke="none" stroke-width="0.6"/>
<rect x="392.4" y="256" width="7.6" height="11" fill="#ff00ff" stroke="#808080" stroke-width="0.45"/>
<line x1="397.6" y1="261.5" x2="402.4" y2="261.5" stroke="#1a1a1a" stroke-width="0.75"/>
<line x1="397.6" y1="260.4" x2="397.6" y2="262.6" stroke="#1a1a1a" stroke-width="0.6"/>
<line x1="402.4" y1="260.4" x2="402.4" y2="262.6" stroke="#1a1a1a" stroke-width="0.6"/>
<rect x="399.2" y="260.7" width="1.6" height="1.6" fill="#111" stroke="none" stroke-width="0.6"/>
<line x1="392.4" y1="165" x2="392.4" y2="272" stroke="#666" stroke-width="0.8"/>
<line x1="392.4" y1="272" x2="523" y2="272" stroke="#666" stroke-width="0.8"/>
<line x1="391.4" y1="187" x2="393.4" y2="187" stroke="#555" stroke-width="0.7"/>
<line x1="391.4" y1="208.3" x2="393.4" y2="208.3" stroke="#555" stroke-width="0.7"/>
<line x1="391.4" y1="229.8" x2="393.4" y2="229.8" stroke="#555" stroke-width="0.7"/>
<line x1="391.4" y1="251" x2="393.4" y2="251" stroke="#555" stroke-width="0.7"/>
<line x1="391.4" y1="165.5" x2="393.4" y2="165.5" stroke="#555" stroke-width="0.7"/>
<text x="390.6" y="180.6" font-size="12.6" text-anchor="end" textLength="5.6" lengthAdjust="spacingAndGlyphs" fill="#3a3a3a" stroke="#3a3a3a" stroke-width="0.35">9</text>
<text x="390.6" y="202" font-size="12.6" text-anchor="end" textLength="5.6" lengthAdjust="spacingAndGlyphs" fill="#3a3a3a" stroke="#3a3a3a" stroke-width="0.35">8</text>
<text x="390.6" y="223.3" font-size="12.6" text-anchor="end" textLength="5.6" lengthAdjust="spacingAndGlyphs" fill="#3a3a3a" stroke="#3a3a3a" stroke-width="0.35">7</text>
<text x="390.6" y="244.9" font-size="12.6" text-anchor="end" textLength="5.6" lengthAdjust="spacingAndGlyphs" fill="#3a3a3a" stroke="#3a3a3a" stroke-width="0.35">6</text>
<text x="390.6" y="265.8" font-size="12.6" text-anchor="end" textLength="5.6" lengthAdjust="spacingAndGlyphs" fill="#3a3a3a" stroke="#3a3a3a" stroke-width="0.35">5</text>
<text x="392.4" y="286.4" font-size="12.4" text-anchor="middle" textLength="4.8" lengthAdjust="spacingAndGlyphs" fill="#3a3a3a" stroke="#3a3a3a" stroke-width="0.35">0</text>
<line x1="392.4" y1="272" x2="392.4" y2="274.4" stroke="#555" stroke-width="0.7"/>
<text x="419.4" y="286.4" font-size="12.4" text-anchor="middle" textLength="10.1" lengthAdjust="spacingAndGlyphs" fill="#3a3a3a" stroke="#3a3a3a" stroke-width="0.35">30</text>
<line x1="419.4" y1="272" x2="419.4" y2="274.4" stroke="#555" stroke-width="0.7"/>
<text x="446.4" y="286.4" font-size="12.4" text-anchor="middle" textLength="10.1" lengthAdjust="spacingAndGlyphs" fill="#3a3a3a" stroke="#3a3a3a" stroke-width="0.35">60</text>
<line x1="446.4" y1="272" x2="446.4" y2="274.4" stroke="#555" stroke-width="0.7"/>
<text x="473.4" y="286.4" font-size="12.4" text-anchor="middle" textLength="10.1" lengthAdjust="spacingAndGlyphs" fill="#3a3a3a" stroke="#3a3a3a" stroke-width="0.35">90</text>
<line x1="473.4" y1="272" x2="473.4" y2="274.4" stroke="#555" stroke-width="0.7"/>
<text x="500.4" y="286.4" font-size="12.4" text-anchor="middle" textLength="15.4" lengthAdjust="spacingAndGlyphs" fill="#3a3a3a" stroke="#3a3a3a" stroke-width="0.35">120</text>
<line x1="500.4" y1="272" x2="500.4" y2="274.4" stroke="#555" stroke-width="0.7"/>
<line x1="392.4" y1="272" x2="392.4" y2="273.4" stroke="#888" stroke-width="0.5"/>
<line x1="397.8" y1="272" x2="397.8" y2="273.4" stroke="#888" stroke-width="0.5"/>
<line x1="403.2" y1="272" x2="403.2" y2="273.4" stroke="#888" stroke-width="0.5"/>
<line x1="408.6" y1="272" x2="408.6" y2="273.4" stroke="#888" stroke-width="0.5"/>
<line x1="414" y1="272" x2="414" y2="273.4" stroke="#888" stroke-width="0.5"/>
<line x1="419.4" y1="272" x2="419.4" y2="273.4" stroke="#888" stroke-width="0.5"/>
<line x1="424.8" y1="272" x2="424.8" y2="273.4" stroke="#888" stroke-width="0.5"/>
<line x1="430.2" y1="272" x2="430.2" y2="273.4" stroke="#888" stroke-width="0.5"/>
<line x1="435.6" y1="272" x2="435.6" y2="273.4" stroke="#888" stroke-width="0.5"/>
<line x1="441" y1="272" x2="441" y2="273.4" stroke="#888" stroke-width="0.5"/>
<line x1="446.4" y1="272" x2="446.4" y2="273.4" stroke="#888" stroke-width="0.5"/>
<line x1="451.8" y1="272" x2="451.8" y2="273.4" stroke="#888" stroke-width="0.5"/>
<line x1="457.2" y1="272" x2="457.2" y2="273.4" stroke="#888" stroke-width="0.5"/>
<line x1="462.6" y1="272" x2="462.6" y2="273.4" stroke="#888" stroke-width="0.5"/>
<line x1="468" y1="272" x2="468" y2="273.4" stroke="#888" stroke-width="0.5"/>
<line x1="473.4" y1="272" x2="473.4" y2="273.4" stroke="#888" stroke-width="0.5"/>
<line x1="478.8" y1="272" x2="478.8" y2="273.4" stroke="#888" stroke-width="0.5"/>
<line x1="484.2" y1="272" x2="484.2" y2="273.4" stroke="#888" stroke-width="0.5"/>
<line x1="489.6" y1="272" x2="489.6" y2="273.4" stroke="#888" stroke-width="0.5"/>
<line x1="495" y1="272" x2="495" y2="273.4" stroke="#888" stroke-width="0.5"/>
<line x1="500.4" y1="272" x2="500.4" y2="273.4" stroke="#888" stroke-width="0.5"/>
<line x1="505.8" y1="272" x2="505.8" y2="273.4" stroke="#888" stroke-width="0.5"/>
<line x1="511.2" y1="272" x2="511.2" y2="273.4" stroke="#888" stroke-width="0.5"/>
<line x1="516.6" y1="272" x2="516.6" y2="273.4" stroke="#888" stroke-width="0.5"/>
<line x1="522" y1="272" x2="522" y2="273.4" stroke="#888" stroke-width="0.5"/>
<rect x="493.1" y="239" width="29.1" height="32.2" fill="#fff" stroke="#c4c4c4" stroke-width="0.6"/>
<rect x="493.8" y="240.4" width="13.9" height="6.8" fill="#00dd00" stroke="#8a8a8a" stroke-width="0.5"/>
<text x="510.6" y="246.1" font-size="7.5" text-anchor="start" textLength="10.6" lengthAdjust="spacingAndGlyphs" fill="#3c3c3c" stroke="#3c3c3c" stroke-width="0.15">CAD</text>
<rect x="493.8" y="248.1" width="13.9" height="6.9" fill="#0000ff" stroke="#8a8a8a" stroke-width="0.5"/>
<text x="510.6" y="253.9" font-size="7.5" text-anchor="start" textLength="10.6" lengthAdjust="spacingAndGlyphs" fill="#3c3c3c" stroke="#3c3c3c" stroke-width="0.15">PUT</text>
<rect x="493.8" y="256" width="13.9" height="6.7" fill="#ff00ff" stroke="#8a8a8a" stroke-width="0.5"/>
<text x="510.6" y="261.6" font-size="7.5" text-anchor="start" textLength="10.6" lengthAdjust="spacingAndGlyphs" fill="#3c3c3c" stroke="#3c3c3c" stroke-width="0.15">TYR</text>
<rect x="493.8" y="263.6" width="13.9" height="6.8" fill="#ffff00" stroke="#8a8a8a" stroke-width="0.5"/>
<text x="510.6" y="269.3" font-size="7.5" text-anchor="start" textLength="10.6" lengthAdjust="spacingAndGlyphs" fill="#3c3c3c" stroke="#3c3c3c" stroke-width="0.15">HIM</text>
<text transform="translate(373,229.5) rotate(-90)" font-size="11.8" font-weight="bold" textLength="13.3" lengthAdjust="spacingAndGlyphs" fill="#161616" stroke="#161616" stroke-width="0.2">pH</text>
<text x="401.1" y="302.9" font-size="11" text-anchor="start" font-weight="bold" textLength="81.4" lengthAdjust="spacingAndGlyphs" fill="#161616" stroke="#161616" stroke-width="0.15">Degradation Rate</text>
<path d="M487.32,295.18 Q483.03,298.5 487.32,301.82" fill="none" stroke="#161616" stroke-width="1.35" stroke-linecap="round"/>
<text x="490.7" y="303.4" font-size="13.5" text-anchor="start" font-weight="bold" textLength="10.4" lengthAdjust="spacingAndGlyphs" fill="#161616" stroke="#161616" stroke-width="0.2">%</text>
<path d="M504.38,295.18 Q508.68,298.5 504.38,301.82" fill="none" stroke="#161616" stroke-width="1.35" stroke-linecap="round"/>
<line x1="555" y1="187.7" x2="666" y2="187.7" stroke="#ececec" stroke-width="0.6"/>
<line x1="555" y1="208.8" x2="666" y2="208.8" stroke="#ececec" stroke-width="0.6"/>
<line x1="555" y1="230.2" x2="666" y2="230.2" stroke="#ececec" stroke-width="0.6"/>
<line x1="555" y1="251.25" x2="666" y2="251.25" stroke="#ececec" stroke-width="0.6"/>
<rect x="555" y="171.6" width="4" height="10.8" fill="#00ffff" stroke="#808080" stroke-width="0.45"/>
<rect x="559" y="171.6" width="5.6" height="10.8" fill="#8c8cbb" stroke="#808080" stroke-width="0.45"/>
<rect x="564.6" y="171.6" width="5.4" height="10.8" fill="#ffff77" stroke="#808080" stroke-width="0.45"/>
<rect x="570" y="171.6" width="5.6" height="10.8" fill="#ff5a5a" stroke="#808080" stroke-width="0.45"/>
<line x1="556.6" y1="177" x2="561.4" y2="177" stroke="#1a1a1a" stroke-width="0.75"/>
<line x1="556.6" y1="175.9" x2="556.6" y2="178.1" stroke="#1a1a1a" stroke-width="0.6"/>
<line x1="561.4" y1="175.9" x2="561.4" y2="178.1" stroke="#1a1a1a" stroke-width="0.6"/>
<rect x="558.2" y="176.2" width="1.6" height="1.6" fill="#111" stroke="none" stroke-width="0.6"/>
<line x1="562.2" y1="177" x2="567" y2="177" stroke="#1a1a1a" stroke-width="0.75"/>
<line x1="562.2" y1="175.9" x2="562.2" y2="178.1" stroke="#1a1a1a" stroke-width="0.6"/>
<line x1="567" y1="175.9" x2="567" y2="178.1" stroke="#1a1a1a" stroke-width="0.6"/>
<rect x="563.8" y="176.2" width="1.6" height="1.6" fill="#111" stroke="none" stroke-width="0.6"/>
<line x1="567.6" y1="177" x2="572.4" y2="177" stroke="#1a1a1a" stroke-width="0.75"/>
<line x1="567.6" y1="175.9" x2="567.6" y2="178.1" stroke="#1a1a1a" stroke-width="0.6"/>
<line x1="572.4" y1="175.9" x2="572.4" y2="178.1" stroke="#1a1a1a" stroke-width="0.6"/>
<rect x="569.2" y="176.2" width="1.6" height="1.6" fill="#111" stroke="none" stroke-width="0.6"/>
<line x1="573.2" y1="177" x2="578" y2="177" stroke="#1a1a1a" stroke-width="0.75"/>
<line x1="573.2" y1="175.9" x2="573.2" y2="178.1" stroke="#1a1a1a" stroke-width="0.6"/>
<line x1="578" y1="175.9" x2="578" y2="178.1" stroke="#1a1a1a" stroke-width="0.6"/>
<rect x="574.8" y="176.2" width="1.6" height="1.6" fill="#111" stroke="none" stroke-width="0.6"/>
<rect x="555" y="193" width="4.4" height="10.6" fill="#00ffff" stroke="#808080" stroke-width="0.45"/>
<rect x="559.4" y="193" width="7.6" height="10.6" fill="#8c8cbb" stroke="#808080" stroke-width="0.45"/>
<rect x="567" y="193" width="6" height="10.6" fill="#ffff77" stroke="#808080" stroke-width="0.45"/>
<rect x="573" y="193" width="6.6" height="10.6" fill="#ff5a5a" stroke="#808080" stroke-width="0.45"/>
<line x1="557" y1="198.3" x2="561.8" y2="198.3" stroke="#1a1a1a" stroke-width="0.75"/>
<line x1="557" y1="197.2" x2="557" y2="199.4" stroke="#1a1a1a" stroke-width="0.6"/>
<line x1="561.8" y1="197.2" x2="561.8" y2="199.4" stroke="#1a1a1a" stroke-width="0.6"/>
<rect x="558.6" y="197.5" width="1.6" height="1.6" fill="#111" stroke="none" stroke-width="0.6"/>
<line x1="564.6" y1="198.3" x2="569.4" y2="198.3" stroke="#1a1a1a" stroke-width="0.75"/>
<line x1="564.6" y1="197.2" x2="564.6" y2="199.4" stroke="#1a1a1a" stroke-width="0.6"/>
<line x1="569.4" y1="197.2" x2="569.4" y2="199.4" stroke="#1a1a1a" stroke-width="0.6"/>
<rect x="566.2" y="197.5" width="1.6" height="1.6" fill="#111" stroke="none" stroke-width="0.6"/>
<line x1="570.6" y1="198.3" x2="575.4" y2="198.3" stroke="#1a1a1a" stroke-width="0.75"/>
<line x1="570.6" y1="197.2" x2="570.6" y2="199.4" stroke="#1a1a1a" stroke-width="0.6"/>
<line x1="575.4" y1="197.2" x2="575.4" y2="199.4" stroke="#1a1a1a" stroke-width="0.6"/>
<rect x="572.2" y="197.5" width="1.6" height="1.6" fill="#111" stroke="none" stroke-width="0.6"/>
<line x1="577.2" y1="198.3" x2="582" y2="198.3" stroke="#1a1a1a" stroke-width="0.75"/>
<line x1="577.2" y1="197.2" x2="577.2" y2="199.4" stroke="#1a1a1a" stroke-width="0.6"/>
<line x1="582" y1="197.2" x2="582" y2="199.4" stroke="#1a1a1a" stroke-width="0.6"/>
<rect x="578.8" y="197.5" width="1.6" height="1.6" fill="#111" stroke="none" stroke-width="0.6"/>
<rect x="555" y="214" width="7.4" height="11" fill="#00ffff" stroke="#808080" stroke-width="0.45"/>
<rect x="562.4" y="214" width="24" height="11" fill="#8c8cbb" stroke="#808080" stroke-width="0.45"/>
<rect x="586.4" y="214" width="18" height="11" fill="#ffff77" stroke="#808080" stroke-width="0.45"/>
<rect x="604.4" y="214" width="7.6" height="11" fill="#ff5a5a" stroke="#808080" stroke-width="0.45"/>
<line x1="560" y1="219.5" x2="564.8" y2="219.5" stroke="#1a1a1a" stroke-width="0.75"/>
<line x1="560" y1="218.4" x2="560" y2="220.6" stroke="#1a1a1a" stroke-width="0.6"/>
<line x1="564.8" y1="218.4" x2="564.8" y2="220.6" stroke="#1a1a1a" stroke-width="0.6"/>
<rect x="561.6" y="218.7" width="1.6" height="1.6" fill="#111" stroke="none" stroke-width="0.6"/>
<line x1="584" y1="219.5" x2="588.8" y2="219.5" stroke="#1a1a1a" stroke-width="0.75"/>
<line x1="584" y1="218.4" x2="584" y2="220.6" stroke="#1a1a1a" stroke-width="0.6"/>
<line x1="588.8" y1="218.4" x2="588.8" y2="220.6" stroke="#1a1a1a" stroke-width="0.6"/>
<rect x="585.6" y="218.7" width="1.6" height="1.6" fill="#111" stroke="none" stroke-width="0.6"/>
<line x1="602" y1="219.5" x2="606.8" y2="219.5" stroke="#1a1a1a" stroke-width="0.75"/>
<line x1="602" y1="218.4" x2="602" y2="220.6" stroke="#1a1a1a" stroke-width="0.6"/>
<line x1="606.8" y1="218.4" x2="606.8" y2="220.6" stroke="#1a1a1a" stroke-width="0.6"/>
<rect x="603.6" y="218.7" width="1.6" height="1.6" fill="#111" stroke="none" stroke-width="0.6"/>
<line x1="609.6" y1="219.5" x2="614.4" y2="219.5" stroke="#1a1a1a" stroke-width="0.75"/>
<line x1="609.6" y1="218.4" x2="609.6" y2="220.6" stroke="#1a1a1a" stroke-width="0.6"/>
<line x1="614.4" y1="218.4" x2="614.4" y2="220.6" stroke="#1a1a1a" stroke-width="0.6"/>
<rect x="611.2" y="218.7" width="1.6" height="1.6" fill="#111" stroke="none" stroke-width="0.6"/>
<rect x="555" y="235.4" width="8" height="10.6" fill="#00ffff" stroke="#808080" stroke-width="0.45"/>
<rect x="563" y="235.4" width="43.4" height="10.6" fill="#8c8cbb" stroke="#808080" stroke-width="0.45"/>
<rect x="606.4" y="235.4" width="28" height="10.6" fill="#ffff77" stroke="#808080" stroke-width="0.45"/>
<rect x="634.4" y="235.4" width="14" height="10.6" fill="#ff5a5a" stroke="#808080" stroke-width="0.45"/>
<line x1="560.6" y1="240.7" x2="565.4" y2="240.7" stroke="#1a1a1a" stroke-width="0.75"/>
<line x1="560.6" y1="239.6" x2="560.6" y2="241.8" stroke="#1a1a1a" stroke-width="0.6"/>
<line x1="565.4" y1="239.6" x2="565.4" y2="241.8" stroke="#1a1a1a" stroke-width="0.6"/>
<rect x="562.2" y="239.9" width="1.6" height="1.6" fill="#111" stroke="none" stroke-width="0.6"/>
<line x1="604" y1="240.7" x2="608.8" y2="240.7" stroke="#1a1a1a" stroke-width="0.75"/>
<line x1="604" y1="239.6" x2="604" y2="241.8" stroke="#1a1a1a" stroke-width="0.6"/>
<line x1="608.8" y1="239.6" x2="608.8" y2="241.8" stroke="#1a1a1a" stroke-width="0.6"/>
<rect x="605.6" y="239.9" width="1.6" height="1.6" fill="#111" stroke="none" stroke-width="0.6"/>
<line x1="632" y1="240.7" x2="636.8" y2="240.7" stroke="#1a1a1a" stroke-width="0.75"/>
<line x1="632" y1="239.6" x2="632" y2="241.8" stroke="#1a1a1a" stroke-width="0.6"/>
<line x1="636.8" y1="239.6" x2="636.8" y2="241.8" stroke="#1a1a1a" stroke-width="0.6"/>
<rect x="633.6" y="239.9" width="1.6" height="1.6" fill="#111" stroke="none" stroke-width="0.6"/>
<line x1="646" y1="240.7" x2="650.8" y2="240.7" stroke="#1a1a1a" stroke-width="0.75"/>
<line x1="646" y1="239.6" x2="646" y2="241.8" stroke="#1a1a1a" stroke-width="0.6"/>
<line x1="650.8" y1="239.6" x2="650.8" y2="241.8" stroke="#1a1a1a" stroke-width="0.6"/>
<rect x="647.6" y="239.9" width="1.6" height="1.6" fill="#111" stroke="none" stroke-width="0.6"/>
<rect x="555" y="256.5" width="10.6" height="10.9" fill="#00ffff" stroke="#808080" stroke-width="0.45"/>
<rect x="565.6" y="256.5" width="69.2" height="10.9" fill="#8c8cbb" stroke="#808080" stroke-width="0.45"/>
<rect x="634.8" y="256.5" width="16.2" height="10.9" fill="#ffff77" stroke="#808080" stroke-width="0.45"/>
<rect x="651" y="256.5" width="5.4" height="10.9" fill="#ff5a5a" stroke="#808080" stroke-width="0.45"/>
<line x1="563.2" y1="261.95" x2="568" y2="261.95" stroke="#1a1a1a" stroke-width="0.75"/>
<line x1="563.2" y1="260.85" x2="563.2" y2="263.05" stroke="#1a1a1a" stroke-width="0.6"/>
<line x1="568" y1="260.85" x2="568" y2="263.05" stroke="#1a1a1a" stroke-width="0.6"/>
<rect x="564.8" y="261.15" width="1.6" height="1.6" fill="#111" stroke="none" stroke-width="0.6"/>
<line x1="632.4" y1="261.95" x2="637.2" y2="261.95" stroke="#1a1a1a" stroke-width="0.75"/>
<line x1="632.4" y1="260.85" x2="632.4" y2="263.05" stroke="#1a1a1a" stroke-width="0.6"/>
<line x1="637.2" y1="260.85" x2="637.2" y2="263.05" stroke="#1a1a1a" stroke-width="0.6"/>
<rect x="634" y="261.15" width="1.6" height="1.6" fill="#111" stroke="none" stroke-width="0.6"/>
<line x1="648.6" y1="261.95" x2="653.4" y2="261.95" stroke="#1a1a1a" stroke-width="0.75"/>
<line x1="648.6" y1="260.85" x2="648.6" y2="263.05" stroke="#1a1a1a" stroke-width="0.6"/>
<line x1="653.4" y1="260.85" x2="653.4" y2="263.05" stroke="#1a1a1a" stroke-width="0.6"/>
<rect x="650.2" y="261.15" width="1.6" height="1.6" fill="#111" stroke="none" stroke-width="0.6"/>
<line x1="654" y1="261.95" x2="658.8" y2="261.95" stroke="#1a1a1a" stroke-width="0.75"/>
<line x1="654" y1="260.85" x2="654" y2="263.05" stroke="#1a1a1a" stroke-width="0.6"/>
<line x1="658.8" y1="260.85" x2="658.8" y2="263.05" stroke="#1a1a1a" stroke-width="0.6"/>
<rect x="655.6" y="261.15" width="1.6" height="1.6" fill="#111" stroke="none" stroke-width="0.6"/>
<line x1="555" y1="166" x2="555" y2="272" stroke="#666" stroke-width="0.8"/>
<line x1="555" y1="272" x2="666" y2="272" stroke="#666" stroke-width="0.8"/>
<line x1="554" y1="187.7" x2="556" y2="187.7" stroke="#555" stroke-width="0.7"/>
<line x1="554" y1="208.8" x2="556" y2="208.8" stroke="#555" stroke-width="0.7"/>
<line x1="554" y1="230.2" x2="556" y2="230.2" stroke="#555" stroke-width="0.7"/>
<line x1="554" y1="251.25" x2="556" y2="251.25" stroke="#555" stroke-width="0.7"/>
<line x1="554" y1="166.5" x2="556" y2="166.5" stroke="#555" stroke-width="0.7"/>
<text x="553.4" y="181.3" font-size="12.6" text-anchor="end" textLength="9.69" lengthAdjust="spacingAndGlyphs" fill="#3a3a3a" stroke="#3a3a3a" stroke-width="0.35">15</text>
<text x="553.4" y="202.6" font-size="12.6" text-anchor="end" textLength="9.69" lengthAdjust="spacingAndGlyphs" fill="#3a3a3a" stroke="#3a3a3a" stroke-width="0.35">10</text>
<text x="553.4" y="223.8" font-size="12.6" text-anchor="end" textLength="5.04" lengthAdjust="spacingAndGlyphs" fill="#3a3a3a" stroke="#3a3a3a" stroke-width="0.35">5</text>
<text x="553.4" y="245" font-size="12.6" text-anchor="end" textLength="5.04" lengthAdjust="spacingAndGlyphs" fill="#3a3a3a" stroke="#3a3a3a" stroke-width="0.35">2</text>
<text x="553.4" y="266.25" font-size="12.6" text-anchor="end" textLength="5.04" lengthAdjust="spacingAndGlyphs" fill="#3a3a3a" stroke="#3a3a3a" stroke-width="0.35">0</text>
<text x="555" y="286.4" font-size="12.4" text-anchor="middle" textLength="4.8" lengthAdjust="spacingAndGlyphs" fill="#3a3a3a" stroke="#3a3a3a" stroke-width="0.35">0</text>
<line x1="555" y1="272" x2="555" y2="274.4" stroke="#555" stroke-width="0.7"/>
<text x="579.99" y="286.4" font-size="12.4" text-anchor="middle" textLength="10.1" lengthAdjust="spacingAndGlyphs" fill="#3a3a3a" stroke="#3a3a3a" stroke-width="0.35">30</text>
<line x1="579.99" y1="272" x2="579.99" y2="274.4" stroke="#555" stroke-width="0.7"/>
<text x="604.98" y="286.4" font-size="12.4" text-anchor="middle" textLength="10.1" lengthAdjust="spacingAndGlyphs" fill="#3a3a3a" stroke="#3a3a3a" stroke-width="0.35">60</text>
<line x1="604.98" y1="272" x2="604.98" y2="274.4" stroke="#555" stroke-width="0.7"/>
<text x="629.97" y="286.4" font-size="12.4" text-anchor="middle" textLength="10.1" lengthAdjust="spacingAndGlyphs" fill="#3a3a3a" stroke="#3a3a3a" stroke-width="0.35">90</text>
<line x1="629.97" y1="272" x2="629.97" y2="274.4" stroke="#555" stroke-width="0.7"/>
<text x="654.96" y="286.4" font-size="12.4" text-anchor="middle" textLength="15.4" lengthAdjust="spacingAndGlyphs" fill="#3a3a3a" stroke="#3a3a3a" stroke-width="0.35">120</text>
<line x1="654.96" y1="272" x2="654.96" y2="274.4" stroke="#555" stroke-width="0.7"/>
<line x1="555" y1="272" x2="555" y2="273.4" stroke="#888" stroke-width="0.5"/>
<line x1="560" y1="272" x2="560" y2="273.4" stroke="#888" stroke-width="0.5"/>
<line x1="565" y1="272" x2="565" y2="273.4" stroke="#888" stroke-width="0.5"/>
<line x1="569.99" y1="272" x2="569.99" y2="273.4" stroke="#888" stroke-width="0.5"/>
<line x1="574.99" y1="272" x2="574.99" y2="273.4" stroke="#888" stroke-width="0.5"/>
<line x1="579.99" y1="272" x2="579.99" y2="273.4" stroke="#888" stroke-width="0.5"/>
<line x1="584.99" y1="272" x2="584.99" y2="273.4" stroke="#888" stroke-width="0.5"/>
<line x1="589.99" y1="272" x2="589.99" y2="273.4" stroke="#888" stroke-width="0.5"/>
<line x1="594.98" y1="272" x2="594.98" y2="273.4" stroke="#888" stroke-width="0.5"/>
<line x1="599.98" y1="272" x2="599.98" y2="273.4" stroke="#888" stroke-width="0.5"/>
<line x1="604.98" y1="272" x2="604.98" y2="273.4" stroke="#888" stroke-width="0.5"/>
<line x1="609.98" y1="272" x2="609.98" y2="273.4" stroke="#888" stroke-width="0.5"/>
<line x1="614.98" y1="272" x2="614.98" y2="273.4" stroke="#888" stroke-width="0.5"/>
<line x1="619.97" y1="272" x2="619.97" y2="273.4" stroke="#888" stroke-width="0.5"/>
<line x1="624.97" y1="272" x2="624.97" y2="273.4" stroke="#888" stroke-width="0.5"/>
<line x1="629.97" y1="272" x2="629.97" y2="273.4" stroke="#888" stroke-width="0.5"/>
<line x1="634.97" y1="272" x2="634.97" y2="273.4" stroke="#888" stroke-width="0.5"/>
<line x1="639.97" y1="272" x2="639.97" y2="273.4" stroke="#888" stroke-width="0.5"/>
<line x1="644.96" y1="272" x2="644.96" y2="273.4" stroke="#888" stroke-width="0.5"/>
<line x1="649.96" y1="272" x2="649.96" y2="273.4" stroke="#888" stroke-width="0.5"/>
<line x1="654.96" y1="272" x2="654.96" y2="273.4" stroke="#888" stroke-width="0.5"/>
<line x1="659.96" y1="272" x2="659.96" y2="273.4" stroke="#888" stroke-width="0.5"/>
<line x1="664.96" y1="272" x2="664.96" y2="273.4" stroke="#888" stroke-width="0.5"/>
<rect x="658.6" y="240.1" width="26.9" height="31.1" fill="#fff" stroke="#c4c4c4" stroke-width="0.6"/>
<rect x="659.3" y="241.1" width="11.9" height="6.7" fill="#ff5a5a" stroke="#8a8a8a" stroke-width="0.5"/>
<text x="674.1" y="246.7" font-size="7.5" text-anchor="start" textLength="10.4" lengthAdjust="spacingAndGlyphs" fill="#3c3c3c" stroke="#3c3c3c" stroke-width="0.15">CAD</text>
<rect x="659.3" y="248.8" width="11.9" height="6.5" fill="#ffff77" stroke="#8a8a8a" stroke-width="0.5"/>
<text x="674.1" y="254.2" font-size="7.5" text-anchor="start" textLength="10.4" lengthAdjust="spacingAndGlyphs" fill="#3c3c3c" stroke="#3c3c3c" stroke-width="0.15">PUT</text>
<rect x="659.3" y="256.4" width="11.9" height="6.3" fill="#8c8cbb" stroke="#8a8a8a" stroke-width="0.5"/>
<text x="674.1" y="261.6" font-size="7.5" text-anchor="start" textLength="10.4" lengthAdjust="spacingAndGlyphs" fill="#3c3c3c" stroke="#3c3c3c" stroke-width="0.15">TYR</text>
<rect x="659.3" y="263.6" width="11.9" height="7.2" fill="#00ffff" stroke="#8a8a8a" stroke-width="0.5"/>
<text x="674.1" y="269.7" font-size="7.5" text-anchor="start" textLength="10.4" lengthAdjust="spacingAndGlyphs" fill="#3c3c3c" stroke="#3c3c3c" stroke-width="0.15">HIM</text>
<text transform="translate(538.6,282.7) rotate(-90)" font-size="12" font-weight="bold" textLength="104.2" lengthAdjust="spacingAndGlyphs" fill="#161616" stroke="#161616" stroke-width="0.15">Ethanol concentration</text>
<path d="M531.67,170.68 Q534.9,174.57 538.13,170.68" fill="none" stroke="#161616" stroke-width="1.35" stroke-linecap="round"/>
<path d="M531.67,155.32 Q534.9,151.43 538.13,155.32" fill="none" stroke="#161616" stroke-width="1.35" stroke-linecap="round"/>
<text transform="translate(538,167.6) rotate(-90)" font-size="12.5" font-weight="bold" textLength="9.8" lengthAdjust="spacingAndGlyphs" fill="#161616" stroke="#161616" stroke-width="0.15">%</text>
<text x="558.1" y="304.9" font-size="11" text-anchor="start" font-weight="bold" textLength="81.4" lengthAdjust="spacingAndGlyphs" fill="#161616" stroke="#161616" stroke-width="0.15">Degradation Rate</text>
<path d="M644.33,297.18 Q640.02,300.5 644.33,303.82" fill="none" stroke="#161616" stroke-width="1.35" stroke-linecap="round"/>
<text x="647.7" y="305.4" font-size="13.5" text-anchor="start" font-weight="bold" textLength="10.4" lengthAdjust="spacingAndGlyphs" fill="#161616" stroke="#161616" stroke-width="0.2">%</text>
<path d="M661.38,297.18 Q665.68,300.5 661.38,303.82" fill="none" stroke="#161616" stroke-width="1.35" stroke-linecap="round"/>
<text x="0.4" y="88.2" font-size="14" text-anchor="start" font-weight="bold" textLength="22.6" lengthAdjust="spacingAndGlyphs" fill="#161616" stroke="#161616" stroke-width="0.35">G25</text>
<text x="3.8" y="226.2" font-size="14" text-anchor="start" font-weight="bold" textLength="21.6" lengthAdjust="spacingAndGlyphs" fill="#161616" stroke="#161616" stroke-width="0.35">G38</text>
</svg>
</body></html>
